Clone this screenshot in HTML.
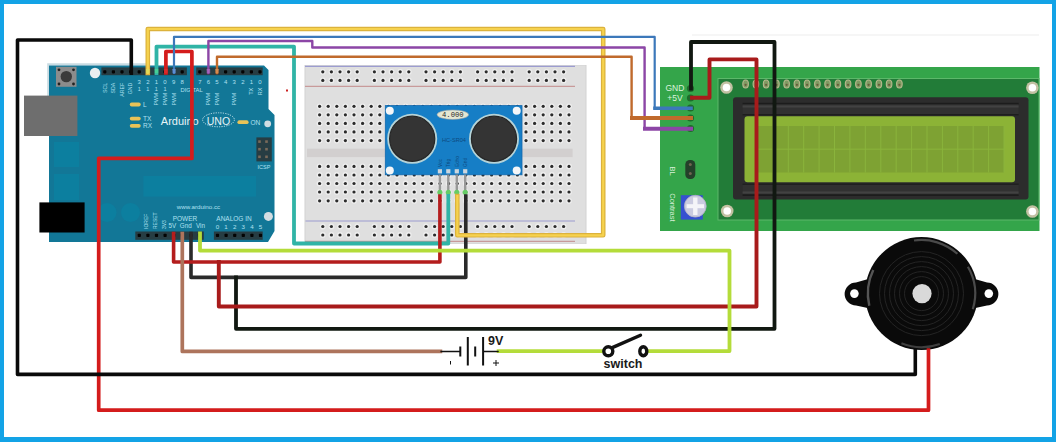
<!DOCTYPE html>
<html><head><meta charset="utf-8"><style>
html,body{margin:0;padding:0;background:#fff;}
body{width:1056px;height:442px;overflow:hidden;font-family:"Liberation Sans", sans-serif;}
svg{display:block;}
</style></head><body>
<svg width="1056" height="442" viewBox="0 0 1056 442">
<rect x="0" y="0" width="1056" height="442" fill="#13a3e6"/>
<rect x="4" y="4" width="1048" height="433" fill="#ffffff"/>
<rect x="692" y="34.5" width="347" height="1" fill="#eeeeee"/>
<polygon points="47.2,63.2 150,63.2 150,65.5 49,65.5 49,96 47.2,96" fill="#c9dbe2"/>
<polygon points="49,65.5 264,65.5 268.5,70 268.5,109 274.5,115 274.5,231 268,242 49,242" fill="#127797"/>
<rect x="143.4" y="176" width="112.6" height="20.6" fill="#0c7f9f"/>
<rect x="54" y="142" width="25" height="25" fill="#0c7f9f"/>
<rect x="54" y="174" width="25" height="26" fill="#0c7f9f"/>
<circle cx="107" cy="212.5" r="9.5" fill="#0c7f9f"/>
<circle cx="130.5" cy="212.5" r="9.5" fill="#0c7f9f"/>
<rect x="24" y="95.6" width="53.4" height="40.4" fill="#6e6e6e"/>
<rect x="39.4" y="202.4" width="45.2" height="30.1" fill="#000"/>
<rect x="56" y="66.8" width="20.5" height="20" fill="#8c8c8c"/>
<circle cx="66.3" cy="76.6" r="5.7" fill="#3b3b3b"/>
<circle cx="59" cy="69.8" r="1.4" fill="#222"/>
<circle cx="73.5" cy="69.8" r="1.4" fill="#222"/>
<circle cx="59" cy="84" r="1.4" fill="#222"/>
<circle cx="73.5" cy="84" r="1.4" fill="#222"/>
<circle cx="95" cy="73" r="5.2" fill="#e9eef0"/>
<circle cx="267.7" cy="123.8" r="3.4" fill="#d0dce2"/>
<circle cx="268.4" cy="216.4" r="4.5" fill="#d3dde2"/>
<rect x="101.4" y="67.4" width="85.5" height="7.8" fill="#273d43"/>
<rect x="103.2" y="70.2" width="3.2" height="3.2" rx="0.8" fill="#030303"/>
<rect x="111.8" y="70.2" width="3.2" height="3.2" rx="0.8" fill="#030303"/>
<rect x="120.4" y="70.2" width="3.2" height="3.2" rx="0.8" fill="#030303"/>
<rect x="129.0" y="70.2" width="3.2" height="3.2" rx="0.8" fill="#030303"/>
<rect x="137.6" y="70.2" width="3.2" height="3.2" rx="0.8" fill="#030303"/>
<rect x="146.2" y="70.2" width="3.2" height="3.2" rx="0.8" fill="#030303"/>
<rect x="154.8" y="70.2" width="3.2" height="3.2" rx="0.8" fill="#030303"/>
<rect x="163.4" y="70.2" width="3.2" height="3.2" rx="0.8" fill="#030303"/>
<rect x="172.0" y="70.2" width="3.2" height="3.2" rx="0.8" fill="#030303"/>
<rect x="180.6" y="70.2" width="3.2" height="3.2" rx="0.8" fill="#030303"/>
<rect x="196.2" y="67.4" width="66.5" height="7.8" fill="#273d43"/>
<rect x="198.2" y="70.2" width="3.2" height="3.2" rx="0.8" fill="#030303"/>
<rect x="206.8" y="70.2" width="3.2" height="3.2" rx="0.8" fill="#030303"/>
<rect x="215.4" y="70.2" width="3.2" height="3.2" rx="0.8" fill="#030303"/>
<rect x="224.0" y="70.2" width="3.2" height="3.2" rx="0.8" fill="#030303"/>
<rect x="232.6" y="70.2" width="3.2" height="3.2" rx="0.8" fill="#030303"/>
<rect x="241.2" y="70.2" width="3.2" height="3.2" rx="0.8" fill="#030303"/>
<rect x="249.8" y="70.2" width="3.2" height="3.2" rx="0.8" fill="#030303"/>
<rect x="258.4" y="70.2" width="3.2" height="3.2" rx="0.8" fill="#030303"/>
<rect x="135.3" y="231.5" width="68.5" height="8.3" fill="#273d43"/>
<rect x="137.7" y="233.8" width="3.2" height="3.2" rx="0.8" fill="#030303"/>
<rect x="146.3" y="233.8" width="3.2" height="3.2" rx="0.8" fill="#030303"/>
<rect x="154.9" y="233.8" width="3.2" height="3.2" rx="0.8" fill="#030303"/>
<rect x="163.5" y="233.8" width="3.2" height="3.2" rx="0.8" fill="#030303"/>
<rect x="172.1" y="233.8" width="3.2" height="3.2" rx="0.8" fill="#030303"/>
<rect x="180.7" y="233.8" width="3.2" height="3.2" rx="0.8" fill="#030303"/>
<rect x="189.3" y="233.8" width="3.2" height="3.2" rx="0.8" fill="#030303"/>
<rect x="197.9" y="233.8" width="3.2" height="3.2" rx="0.8" fill="#030303"/>
<rect x="213.9" y="231.5" width="48.8" height="8.3" fill="#273d43"/>
<rect x="215.9" y="233.8" width="3.2" height="3.2" rx="0.8" fill="#030303"/>
<rect x="224.5" y="233.8" width="3.2" height="3.2" rx="0.8" fill="#030303"/>
<rect x="233.1" y="233.8" width="3.2" height="3.2" rx="0.8" fill="#030303"/>
<rect x="241.7" y="233.8" width="3.2" height="3.2" rx="0.8" fill="#030303"/>
<rect x="250.3" y="233.8" width="3.2" height="3.2" rx="0.8" fill="#030303"/>
<rect x="258.9" y="233.8" width="3.2" height="3.2" rx="0.8" fill="#030303"/>
<rect x="256.4" y="137.4" width="15.4" height="24" fill="#273d43"/>
<rect x="258.2" y="140.29999999999998" width="2.6" height="2.6" fill="#7a6a5a"/>
<rect x="265.2" y="140.29999999999998" width="2.6" height="2.6" fill="#7a6a5a"/>
<rect x="258.2" y="147.89999999999998" width="2.6" height="2.6" fill="#7a6a5a"/>
<rect x="265.2" y="147.89999999999998" width="2.6" height="2.6" fill="#7a6a5a"/>
<rect x="258.2" y="155.49999999999997" width="2.6" height="2.6" fill="#7a6a5a"/>
<rect x="265.2" y="155.49999999999997" width="2.6" height="2.6" fill="#7a6a5a"/>
<text x="106.7" y="82.8" font-family='"Liberation Sans", sans-serif' font-size="5.2" fill="#b0e0f0" font-weight="normal" text-anchor="end" transform="rotate(-90 106.7 82.8)">SCL</text>
<text x="115.3" y="82.8" font-family='"Liberation Sans", sans-serif' font-size="5.2" fill="#b0e0f0" font-weight="normal" text-anchor="end" transform="rotate(-90 115.3 82.8)">SDA</text>
<text x="123.9" y="82.8" font-family='"Liberation Sans", sans-serif' font-size="5.2" fill="#b0e0f0" font-weight="normal" text-anchor="end" transform="rotate(-90 123.9 82.8)">AREF</text>
<text x="132.5" y="82.8" font-family='"Liberation Sans", sans-serif' font-size="5.2" fill="#b0e0f0" font-weight="normal" text-anchor="end" transform="rotate(-90 132.5 82.8)">GND</text>
<text x="139.2" y="83.5" font-family='"Liberation Sans", sans-serif' font-size="6" fill="#b0e0f0" font-weight="normal" text-anchor="middle">3</text>
<text x="147.79999999999998" y="83.5" font-family='"Liberation Sans", sans-serif' font-size="6" fill="#b0e0f0" font-weight="normal" text-anchor="middle">2</text>
<text x="156.39999999999998" y="83.5" font-family='"Liberation Sans", sans-serif' font-size="6" fill="#b0e0f0" font-weight="normal" text-anchor="middle">1</text>
<text x="165.0" y="83.5" font-family='"Liberation Sans", sans-serif' font-size="6" fill="#b0e0f0" font-weight="normal" text-anchor="middle">0</text>
<text x="173.6" y="83.5" font-family='"Liberation Sans", sans-serif' font-size="6" fill="#b0e0f0" font-weight="normal" text-anchor="middle">9</text>
<text x="182.2" y="83.5" font-family='"Liberation Sans", sans-serif' font-size="6" fill="#b0e0f0" font-weight="normal" text-anchor="middle">8</text>
<text x="139.2" y="91.2" font-family='"Liberation Sans", sans-serif' font-size="5.5" fill="#b0e0f0" font-weight="normal" text-anchor="middle">1</text>
<text x="147.79999999999998" y="91.2" font-family='"Liberation Sans", sans-serif' font-size="5.5" fill="#b0e0f0" font-weight="normal" text-anchor="middle">1</text>
<text x="156.39999999999998" y="91.2" font-family='"Liberation Sans", sans-serif' font-size="5.5" fill="#b0e0f0" font-weight="normal" text-anchor="middle">1</text>
<text x="165.0" y="91.2" font-family='"Liberation Sans", sans-serif' font-size="5.5" fill="#b0e0f0" font-weight="normal" text-anchor="middle">1</text>
<text x="158.39999999999998" y="92.8" font-family='"Liberation Sans", sans-serif' font-size="5.2" fill="#b0e0f0" font-weight="normal" text-anchor="end" transform="rotate(-90 158.39999999999998 92.8)">PWM</text>
<text x="167.0" y="92.8" font-family='"Liberation Sans", sans-serif' font-size="5.2" fill="#b0e0f0" font-weight="normal" text-anchor="end" transform="rotate(-90 167.0 92.8)">PWM</text>
<text x="175.6" y="92.8" font-family='"Liberation Sans", sans-serif' font-size="5.2" fill="#b0e0f0" font-weight="normal" text-anchor="end" transform="rotate(-90 175.6 92.8)">PWM</text>
<text x="180.5" y="91.6" font-family='"Liberation Sans", sans-serif' font-size="5.8" fill="#b0e0f0" font-weight="normal" text-anchor="start">DIGITAL</text>
<text x="199.8" y="83.5" font-family='"Liberation Sans", sans-serif' font-size="6" fill="#b0e0f0" font-weight="normal" text-anchor="middle">7</text>
<text x="208.4" y="83.5" font-family='"Liberation Sans", sans-serif' font-size="6" fill="#b0e0f0" font-weight="normal" text-anchor="middle">6</text>
<text x="217.0" y="83.5" font-family='"Liberation Sans", sans-serif' font-size="6" fill="#b0e0f0" font-weight="normal" text-anchor="middle">5</text>
<text x="225.60000000000002" y="83.5" font-family='"Liberation Sans", sans-serif' font-size="6" fill="#b0e0f0" font-weight="normal" text-anchor="middle">4</text>
<text x="234.20000000000002" y="83.5" font-family='"Liberation Sans", sans-serif' font-size="6" fill="#b0e0f0" font-weight="normal" text-anchor="middle">3</text>
<text x="242.8" y="83.5" font-family='"Liberation Sans", sans-serif' font-size="6" fill="#b0e0f0" font-weight="normal" text-anchor="middle">2</text>
<text x="251.4" y="83.5" font-family='"Liberation Sans", sans-serif' font-size="6" fill="#b0e0f0" font-weight="normal" text-anchor="middle">1</text>
<text x="260.0" y="83.5" font-family='"Liberation Sans", sans-serif' font-size="6" fill="#b0e0f0" font-weight="normal" text-anchor="middle">0</text>
<text x="210.4" y="92.8" font-family='"Liberation Sans", sans-serif' font-size="5.2" fill="#b0e0f0" font-weight="normal" text-anchor="end" transform="rotate(-90 210.4 92.8)">PWM</text>
<text x="219.0" y="92.8" font-family='"Liberation Sans", sans-serif' font-size="5.2" fill="#b0e0f0" font-weight="normal" text-anchor="end" transform="rotate(-90 219.0 92.8)">PWM</text>
<text x="236.20000000000002" y="92.8" font-family='"Liberation Sans", sans-serif' font-size="5.2" fill="#b0e0f0" font-weight="normal" text-anchor="end" transform="rotate(-90 236.20000000000002 92.8)">PWM</text>
<text x="253.4" y="87.7" font-family='"Liberation Sans", sans-serif' font-size="5.5" fill="#b0e0f0" font-weight="normal" text-anchor="end" transform="rotate(-90 253.4 87.7)">TX</text>
<text x="262" y="87.7" font-family='"Liberation Sans", sans-serif' font-size="5.5" fill="#b0e0f0" font-weight="normal" text-anchor="end" transform="rotate(-90 262 87.7)">RX</text>
<rect x="129.8" y="102.6" width="10.9" height="3.8" rx="1.9" fill="#e9c357"/>
<text x="143" y="106.8" font-family='"Liberation Sans", sans-serif' font-size="6.5" fill="#b0e0f0" font-weight="normal" text-anchor="start">L</text>
<rect x="129.8" y="116.69999999999999" width="10.9" height="3.8" rx="1.9" fill="#e9c357"/>
<text x="143" y="120.89999999999999" font-family='"Liberation Sans", sans-serif' font-size="6.5" fill="#b0e0f0" font-weight="normal" text-anchor="start">TX</text>
<rect x="129.8" y="123.89999999999999" width="10.9" height="3.8" rx="1.9" fill="#e9c357"/>
<text x="143" y="128.1" font-family='"Liberation Sans", sans-serif' font-size="6.5" fill="#b0e0f0" font-weight="normal" text-anchor="start">RX</text>
<text x="160.8" y="124.5" font-family='"Liberation Sans", sans-serif' font-size="11" fill="#e6f4f8" font-weight="normal" text-anchor="start">Arduino</text>
<ellipse cx="218.5" cy="119.8" rx="15.9" ry="7" fill="none" stroke="#d8eef5" stroke-width="0.9" stroke-dasharray="1.2 1.2"/>
<text x="218.4" y="124.5" font-family='"Liberation Sans", sans-serif' font-size="10.5" fill="#e6f4f8" font-weight="normal" text-anchor="middle">UNO</text>
<rect x="237.4" y="120.3" width="11.2" height="3.8" rx="1.9" fill="#e9c357"/>
<text x="250.4" y="124.5" font-family='"Liberation Sans", sans-serif' font-size="6.5" fill="#b0e0f0" font-weight="normal" text-anchor="start">ON</text>
<text x="264" y="168.5" font-family='"Liberation Sans", sans-serif' font-size="5.5" fill="#b0e0f0" font-weight="normal" text-anchor="middle">ICSP</text>
<text x="198.5" y="209" font-family='"Liberation Sans", sans-serif' font-size="6.2" fill="#b0e0f0" font-weight="normal" text-anchor="middle">www.arduino.cc</text>
<text x="185" y="220.5" font-family='"Liberation Sans", sans-serif' font-size="6.5" fill="#b0e0f0" font-weight="normal" text-anchor="middle">POWER</text>
<text x="234" y="220.5" font-family='"Liberation Sans", sans-serif' font-size="6.5" fill="#b0e0f0" font-weight="normal" text-anchor="middle">ANALOG IN</text>
<text x="172.3" y="228.4" font-family='"Liberation Sans", sans-serif' font-size="6.3" fill="#b0e0f0" font-weight="normal" text-anchor="middle">5V</text>
<text x="185.8" y="228.4" font-family='"Liberation Sans", sans-serif' font-size="6.3" fill="#b0e0f0" font-weight="normal" text-anchor="middle">Gnd</text>
<text x="200.5" y="228.4" font-family='"Liberation Sans", sans-serif' font-size="6.3" fill="#b0e0f0" font-weight="normal" text-anchor="middle">Vin</text>
<text x="217.5" y="228.5" font-family='"Liberation Sans", sans-serif' font-size="6.2" fill="#b0e0f0" font-weight="normal" text-anchor="middle">0</text>
<text x="226.1" y="228.5" font-family='"Liberation Sans", sans-serif' font-size="6.2" fill="#b0e0f0" font-weight="normal" text-anchor="middle">1</text>
<text x="234.7" y="228.5" font-family='"Liberation Sans", sans-serif' font-size="6.2" fill="#b0e0f0" font-weight="normal" text-anchor="middle">2</text>
<text x="243.3" y="228.5" font-family='"Liberation Sans", sans-serif' font-size="6.2" fill="#b0e0f0" font-weight="normal" text-anchor="middle">3</text>
<text x="251.9" y="228.5" font-family='"Liberation Sans", sans-serif' font-size="6.2" fill="#b0e0f0" font-weight="normal" text-anchor="middle">4</text>
<text x="260.5" y="228.5" font-family='"Liberation Sans", sans-serif' font-size="6.2" fill="#b0e0f0" font-weight="normal" text-anchor="middle">5</text>
<text x="147.7" y="229" font-family='"Liberation Sans", sans-serif' font-size="5" fill="#b0e0f0" font-weight="normal" text-anchor="start" transform="rotate(-90 147.7 229)">IOREF</text>
<text x="156.79999999999998" y="229" font-family='"Liberation Sans", sans-serif' font-size="5" fill="#b0e0f0" font-weight="normal" text-anchor="start" transform="rotate(-90 156.79999999999998 229)">RESET</text>
<text x="165.89999999999998" y="229" font-family='"Liberation Sans", sans-serif' font-size="5" fill="#b0e0f0" font-weight="normal" text-anchor="start" transform="rotate(-90 165.89999999999998 229)">3V3</text>
<rect x="304.5" y="65" width="282" height="179" fill="#d2d2d2"/>
<rect x="305.5" y="65.5" width="280" height="178" fill="#dfdfdf"/>
<rect x="307" y="148.7" width="265.6" height="8.4" fill="#d2cfcf"/>
<line x1="305" y1="66.3" x2="575" y2="66.3" stroke="#9c9cd0" stroke-width="1.2"/>
<line x1="305" y1="86.3" x2="575" y2="86.3" stroke="#c89a9a" stroke-width="1.2"/>
<line x1="305.5" y1="221" x2="575" y2="221" stroke="#9c9cd0" stroke-width="1.2"/>
<line x1="305" y1="241.3" x2="575" y2="241.3" stroke="#c89a9a" stroke-width="1.2"/>
<circle cx="322.8" cy="71.8" r="2.9" fill="#eeeeee"/><circle cx="322.8" cy="71.8" r="1.6" fill="#2b2b2b"/>
<circle cx="331.4" cy="71.8" r="2.9" fill="#eeeeee"/><circle cx="331.4" cy="71.8" r="1.6" fill="#2b2b2b"/>
<circle cx="340.0" cy="71.8" r="2.9" fill="#eeeeee"/><circle cx="340.0" cy="71.8" r="1.6" fill="#2b2b2b"/>
<circle cx="348.6" cy="71.8" r="2.9" fill="#eeeeee"/><circle cx="348.6" cy="71.8" r="1.6" fill="#2b2b2b"/>
<circle cx="357.2" cy="71.8" r="2.9" fill="#eeeeee"/><circle cx="357.2" cy="71.8" r="1.6" fill="#2b2b2b"/>
<circle cx="374.4" cy="71.8" r="2.9" fill="#eeeeee"/><circle cx="374.4" cy="71.8" r="1.6" fill="#2b2b2b"/>
<circle cx="383.0" cy="71.8" r="2.9" fill="#eeeeee"/><circle cx="383.0" cy="71.8" r="1.6" fill="#2b2b2b"/>
<circle cx="391.6" cy="71.8" r="2.9" fill="#eeeeee"/><circle cx="391.6" cy="71.8" r="1.6" fill="#2b2b2b"/>
<circle cx="400.2" cy="71.8" r="2.9" fill="#eeeeee"/><circle cx="400.2" cy="71.8" r="1.6" fill="#2b2b2b"/>
<circle cx="408.8" cy="71.8" r="2.9" fill="#eeeeee"/><circle cx="408.8" cy="71.8" r="1.6" fill="#2b2b2b"/>
<circle cx="426.0" cy="71.8" r="2.9" fill="#eeeeee"/><circle cx="426.0" cy="71.8" r="1.6" fill="#2b2b2b"/>
<circle cx="434.6" cy="71.8" r="2.9" fill="#eeeeee"/><circle cx="434.6" cy="71.8" r="1.6" fill="#2b2b2b"/>
<circle cx="443.2" cy="71.8" r="2.9" fill="#eeeeee"/><circle cx="443.2" cy="71.8" r="1.6" fill="#2b2b2b"/>
<circle cx="451.8" cy="71.8" r="2.9" fill="#eeeeee"/><circle cx="451.8" cy="71.8" r="1.6" fill="#2b2b2b"/>
<circle cx="460.4" cy="71.8" r="2.9" fill="#eeeeee"/><circle cx="460.4" cy="71.8" r="1.6" fill="#2b2b2b"/>
<circle cx="477.6" cy="71.8" r="2.9" fill="#eeeeee"/><circle cx="477.6" cy="71.8" r="1.6" fill="#2b2b2b"/>
<circle cx="486.2" cy="71.8" r="2.9" fill="#eeeeee"/><circle cx="486.2" cy="71.8" r="1.6" fill="#2b2b2b"/>
<circle cx="494.8" cy="71.8" r="2.9" fill="#eeeeee"/><circle cx="494.8" cy="71.8" r="1.6" fill="#2b2b2b"/>
<circle cx="503.4" cy="71.8" r="2.9" fill="#eeeeee"/><circle cx="503.4" cy="71.8" r="1.6" fill="#2b2b2b"/>
<circle cx="512.0" cy="71.8" r="2.9" fill="#eeeeee"/><circle cx="512.0" cy="71.8" r="1.6" fill="#2b2b2b"/>
<circle cx="529.2" cy="71.8" r="2.9" fill="#eeeeee"/><circle cx="529.2" cy="71.8" r="1.6" fill="#2b2b2b"/>
<circle cx="537.8" cy="71.8" r="2.9" fill="#eeeeee"/><circle cx="537.8" cy="71.8" r="1.6" fill="#2b2b2b"/>
<circle cx="546.4" cy="71.8" r="2.9" fill="#eeeeee"/><circle cx="546.4" cy="71.8" r="1.6" fill="#2b2b2b"/>
<circle cx="555.0" cy="71.8" r="2.9" fill="#eeeeee"/><circle cx="555.0" cy="71.8" r="1.6" fill="#2b2b2b"/>
<circle cx="563.6" cy="71.8" r="2.9" fill="#eeeeee"/><circle cx="563.6" cy="71.8" r="1.6" fill="#2b2b2b"/>
<circle cx="322.8" cy="80.4" r="2.9" fill="#eeeeee"/><circle cx="322.8" cy="80.4" r="1.6" fill="#2b2b2b"/>
<circle cx="331.4" cy="80.4" r="2.9" fill="#eeeeee"/><circle cx="331.4" cy="80.4" r="1.6" fill="#2b2b2b"/>
<circle cx="340.0" cy="80.4" r="2.9" fill="#eeeeee"/><circle cx="340.0" cy="80.4" r="1.6" fill="#2b2b2b"/>
<circle cx="348.6" cy="80.4" r="2.9" fill="#eeeeee"/><circle cx="348.6" cy="80.4" r="1.6" fill="#2b2b2b"/>
<circle cx="357.2" cy="80.4" r="2.9" fill="#eeeeee"/><circle cx="357.2" cy="80.4" r="1.6" fill="#2b2b2b"/>
<circle cx="374.4" cy="80.4" r="2.9" fill="#eeeeee"/><circle cx="374.4" cy="80.4" r="1.6" fill="#2b2b2b"/>
<circle cx="383.0" cy="80.4" r="2.9" fill="#eeeeee"/><circle cx="383.0" cy="80.4" r="1.6" fill="#2b2b2b"/>
<circle cx="391.6" cy="80.4" r="2.9" fill="#eeeeee"/><circle cx="391.6" cy="80.4" r="1.6" fill="#2b2b2b"/>
<circle cx="400.2" cy="80.4" r="2.9" fill="#eeeeee"/><circle cx="400.2" cy="80.4" r="1.6" fill="#2b2b2b"/>
<circle cx="408.8" cy="80.4" r="2.9" fill="#eeeeee"/><circle cx="408.8" cy="80.4" r="1.6" fill="#2b2b2b"/>
<circle cx="426.0" cy="80.4" r="2.9" fill="#eeeeee"/><circle cx="426.0" cy="80.4" r="1.6" fill="#2b2b2b"/>
<circle cx="434.6" cy="80.4" r="2.9" fill="#eeeeee"/><circle cx="434.6" cy="80.4" r="1.6" fill="#2b2b2b"/>
<circle cx="443.2" cy="80.4" r="2.9" fill="#eeeeee"/><circle cx="443.2" cy="80.4" r="1.6" fill="#2b2b2b"/>
<circle cx="451.8" cy="80.4" r="2.9" fill="#eeeeee"/><circle cx="451.8" cy="80.4" r="1.6" fill="#2b2b2b"/>
<circle cx="460.4" cy="80.4" r="2.9" fill="#eeeeee"/><circle cx="460.4" cy="80.4" r="1.6" fill="#2b2b2b"/>
<circle cx="477.6" cy="80.4" r="2.9" fill="#eeeeee"/><circle cx="477.6" cy="80.4" r="1.6" fill="#2b2b2b"/>
<circle cx="486.2" cy="80.4" r="2.9" fill="#eeeeee"/><circle cx="486.2" cy="80.4" r="1.6" fill="#2b2b2b"/>
<circle cx="494.8" cy="80.4" r="2.9" fill="#eeeeee"/><circle cx="494.8" cy="80.4" r="1.6" fill="#2b2b2b"/>
<circle cx="503.4" cy="80.4" r="2.9" fill="#eeeeee"/><circle cx="503.4" cy="80.4" r="1.6" fill="#2b2b2b"/>
<circle cx="512.0" cy="80.4" r="2.9" fill="#eeeeee"/><circle cx="512.0" cy="80.4" r="1.6" fill="#2b2b2b"/>
<circle cx="529.2" cy="80.4" r="2.9" fill="#eeeeee"/><circle cx="529.2" cy="80.4" r="1.6" fill="#2b2b2b"/>
<circle cx="537.8" cy="80.4" r="2.9" fill="#eeeeee"/><circle cx="537.8" cy="80.4" r="1.6" fill="#2b2b2b"/>
<circle cx="546.4" cy="80.4" r="2.9" fill="#eeeeee"/><circle cx="546.4" cy="80.4" r="1.6" fill="#2b2b2b"/>
<circle cx="555.0" cy="80.4" r="2.9" fill="#eeeeee"/><circle cx="555.0" cy="80.4" r="1.6" fill="#2b2b2b"/>
<circle cx="563.6" cy="80.4" r="2.9" fill="#eeeeee"/><circle cx="563.6" cy="80.4" r="1.6" fill="#2b2b2b"/>
<circle cx="322.8" cy="226.5" r="2.9" fill="#eeeeee"/><circle cx="322.8" cy="226.5" r="1.6" fill="#2b2b2b"/>
<circle cx="331.4" cy="226.5" r="2.9" fill="#eeeeee"/><circle cx="331.4" cy="226.5" r="1.6" fill="#2b2b2b"/>
<circle cx="340.0" cy="226.5" r="2.9" fill="#eeeeee"/><circle cx="340.0" cy="226.5" r="1.6" fill="#2b2b2b"/>
<circle cx="348.6" cy="226.5" r="2.9" fill="#eeeeee"/><circle cx="348.6" cy="226.5" r="1.6" fill="#2b2b2b"/>
<circle cx="357.2" cy="226.5" r="2.9" fill="#eeeeee"/><circle cx="357.2" cy="226.5" r="1.6" fill="#2b2b2b"/>
<circle cx="374.4" cy="226.5" r="2.9" fill="#eeeeee"/><circle cx="374.4" cy="226.5" r="1.6" fill="#2b2b2b"/>
<circle cx="383.0" cy="226.5" r="2.9" fill="#eeeeee"/><circle cx="383.0" cy="226.5" r="1.6" fill="#2b2b2b"/>
<circle cx="391.6" cy="226.5" r="2.9" fill="#eeeeee"/><circle cx="391.6" cy="226.5" r="1.6" fill="#2b2b2b"/>
<circle cx="400.2" cy="226.5" r="2.9" fill="#eeeeee"/><circle cx="400.2" cy="226.5" r="1.6" fill="#2b2b2b"/>
<circle cx="408.8" cy="226.5" r="2.9" fill="#eeeeee"/><circle cx="408.8" cy="226.5" r="1.6" fill="#2b2b2b"/>
<circle cx="426.0" cy="226.5" r="2.9" fill="#eeeeee"/><circle cx="426.0" cy="226.5" r="1.6" fill="#2b2b2b"/>
<circle cx="434.6" cy="226.5" r="2.9" fill="#eeeeee"/><circle cx="434.6" cy="226.5" r="1.6" fill="#2b2b2b"/>
<circle cx="443.2" cy="226.5" r="2.9" fill="#eeeeee"/><circle cx="443.2" cy="226.5" r="1.6" fill="#2b2b2b"/>
<circle cx="451.8" cy="226.5" r="2.9" fill="#eeeeee"/><circle cx="451.8" cy="226.5" r="1.6" fill="#2b2b2b"/>
<circle cx="460.4" cy="226.5" r="2.9" fill="#eeeeee"/><circle cx="460.4" cy="226.5" r="1.6" fill="#2b2b2b"/>
<circle cx="477.6" cy="226.5" r="2.9" fill="#eeeeee"/><circle cx="477.6" cy="226.5" r="1.6" fill="#2b2b2b"/>
<circle cx="486.2" cy="226.5" r="2.9" fill="#eeeeee"/><circle cx="486.2" cy="226.5" r="1.6" fill="#2b2b2b"/>
<circle cx="494.8" cy="226.5" r="2.9" fill="#eeeeee"/><circle cx="494.8" cy="226.5" r="1.6" fill="#2b2b2b"/>
<circle cx="503.4" cy="226.5" r="2.9" fill="#eeeeee"/><circle cx="503.4" cy="226.5" r="1.6" fill="#2b2b2b"/>
<circle cx="512.0" cy="226.5" r="2.9" fill="#eeeeee"/><circle cx="512.0" cy="226.5" r="1.6" fill="#2b2b2b"/>
<circle cx="529.2" cy="226.5" r="2.9" fill="#eeeeee"/><circle cx="529.2" cy="226.5" r="1.6" fill="#2b2b2b"/>
<circle cx="537.8" cy="226.5" r="2.9" fill="#eeeeee"/><circle cx="537.8" cy="226.5" r="1.6" fill="#2b2b2b"/>
<circle cx="546.4" cy="226.5" r="2.9" fill="#eeeeee"/><circle cx="546.4" cy="226.5" r="1.6" fill="#2b2b2b"/>
<circle cx="555.0" cy="226.5" r="2.9" fill="#eeeeee"/><circle cx="555.0" cy="226.5" r="1.6" fill="#2b2b2b"/>
<circle cx="563.6" cy="226.5" r="2.9" fill="#eeeeee"/><circle cx="563.6" cy="226.5" r="1.6" fill="#2b2b2b"/>
<circle cx="322.8" cy="235.0" r="2.9" fill="#eeeeee"/><circle cx="322.8" cy="235.0" r="1.6" fill="#2b2b2b"/>
<circle cx="331.4" cy="235.0" r="2.9" fill="#eeeeee"/><circle cx="331.4" cy="235.0" r="1.6" fill="#2b2b2b"/>
<circle cx="340.0" cy="235.0" r="2.9" fill="#eeeeee"/><circle cx="340.0" cy="235.0" r="1.6" fill="#2b2b2b"/>
<circle cx="348.6" cy="235.0" r="2.9" fill="#eeeeee"/><circle cx="348.6" cy="235.0" r="1.6" fill="#2b2b2b"/>
<circle cx="357.2" cy="235.0" r="2.9" fill="#eeeeee"/><circle cx="357.2" cy="235.0" r="1.6" fill="#2b2b2b"/>
<circle cx="374.4" cy="235.0" r="2.9" fill="#eeeeee"/><circle cx="374.4" cy="235.0" r="1.6" fill="#2b2b2b"/>
<circle cx="383.0" cy="235.0" r="2.9" fill="#eeeeee"/><circle cx="383.0" cy="235.0" r="1.6" fill="#2b2b2b"/>
<circle cx="391.6" cy="235.0" r="2.9" fill="#eeeeee"/><circle cx="391.6" cy="235.0" r="1.6" fill="#2b2b2b"/>
<circle cx="400.2" cy="235.0" r="2.9" fill="#eeeeee"/><circle cx="400.2" cy="235.0" r="1.6" fill="#2b2b2b"/>
<circle cx="408.8" cy="235.0" r="2.9" fill="#eeeeee"/><circle cx="408.8" cy="235.0" r="1.6" fill="#2b2b2b"/>
<circle cx="426.0" cy="235.0" r="2.9" fill="#eeeeee"/><circle cx="426.0" cy="235.0" r="1.6" fill="#2b2b2b"/>
<circle cx="434.6" cy="235.0" r="2.9" fill="#eeeeee"/><circle cx="434.6" cy="235.0" r="1.6" fill="#2b2b2b"/>
<circle cx="443.2" cy="235.0" r="2.9" fill="#eeeeee"/><circle cx="443.2" cy="235.0" r="1.6" fill="#2b2b2b"/>
<circle cx="451.8" cy="235.0" r="2.9" fill="#eeeeee"/><circle cx="451.8" cy="235.0" r="1.6" fill="#2b2b2b"/>
<circle cx="460.4" cy="235.0" r="2.9" fill="#eeeeee"/><circle cx="460.4" cy="235.0" r="1.6" fill="#2b2b2b"/>
<circle cx="477.6" cy="235.0" r="2.9" fill="#eeeeee"/><circle cx="477.6" cy="235.0" r="1.6" fill="#2b2b2b"/>
<circle cx="486.2" cy="235.0" r="2.9" fill="#eeeeee"/><circle cx="486.2" cy="235.0" r="1.6" fill="#2b2b2b"/>
<circle cx="494.8" cy="235.0" r="2.9" fill="#eeeeee"/><circle cx="494.8" cy="235.0" r="1.6" fill="#2b2b2b"/>
<circle cx="503.4" cy="235.0" r="2.9" fill="#eeeeee"/><circle cx="503.4" cy="235.0" r="1.6" fill="#2b2b2b"/>
<circle cx="512.0" cy="235.0" r="2.9" fill="#eeeeee"/><circle cx="512.0" cy="235.0" r="1.6" fill="#2b2b2b"/>
<circle cx="529.2" cy="235.0" r="2.9" fill="#eeeeee"/><circle cx="529.2" cy="235.0" r="1.6" fill="#2b2b2b"/>
<circle cx="537.8" cy="235.0" r="2.9" fill="#eeeeee"/><circle cx="537.8" cy="235.0" r="1.6" fill="#2b2b2b"/>
<circle cx="546.4" cy="235.0" r="2.9" fill="#eeeeee"/><circle cx="546.4" cy="235.0" r="1.6" fill="#2b2b2b"/>
<circle cx="555.0" cy="235.0" r="2.9" fill="#eeeeee"/><circle cx="555.0" cy="235.0" r="1.6" fill="#2b2b2b"/>
<circle cx="563.6" cy="235.0" r="2.9" fill="#eeeeee"/><circle cx="563.6" cy="235.0" r="1.6" fill="#2b2b2b"/>
<circle cx="319.6" cy="106.3" r="2.9" fill="#eeeeee"/><circle cx="319.6" cy="106.3" r="1.6" fill="#2b2b2b"/>
<circle cx="328.2" cy="106.3" r="2.9" fill="#eeeeee"/><circle cx="328.2" cy="106.3" r="1.6" fill="#2b2b2b"/>
<circle cx="336.8" cy="106.3" r="2.9" fill="#eeeeee"/><circle cx="336.8" cy="106.3" r="1.6" fill="#2b2b2b"/>
<circle cx="345.4" cy="106.3" r="2.9" fill="#eeeeee"/><circle cx="345.4" cy="106.3" r="1.6" fill="#2b2b2b"/>
<circle cx="354.0" cy="106.3" r="2.9" fill="#eeeeee"/><circle cx="354.0" cy="106.3" r="1.6" fill="#2b2b2b"/>
<circle cx="362.6" cy="106.3" r="2.9" fill="#eeeeee"/><circle cx="362.6" cy="106.3" r="1.6" fill="#2b2b2b"/>
<circle cx="371.2" cy="106.3" r="2.9" fill="#eeeeee"/><circle cx="371.2" cy="106.3" r="1.6" fill="#2b2b2b"/>
<circle cx="379.8" cy="106.3" r="2.9" fill="#eeeeee"/><circle cx="379.8" cy="106.3" r="1.6" fill="#2b2b2b"/>
<circle cx="388.4" cy="106.3" r="2.9" fill="#eeeeee"/><circle cx="388.4" cy="106.3" r="1.6" fill="#2b2b2b"/>
<circle cx="397.0" cy="106.3" r="2.9" fill="#eeeeee"/><circle cx="397.0" cy="106.3" r="1.6" fill="#2b2b2b"/>
<circle cx="405.6" cy="106.3" r="2.9" fill="#eeeeee"/><circle cx="405.6" cy="106.3" r="1.6" fill="#2b2b2b"/>
<circle cx="414.2" cy="106.3" r="2.9" fill="#eeeeee"/><circle cx="414.2" cy="106.3" r="1.6" fill="#2b2b2b"/>
<circle cx="422.8" cy="106.3" r="2.9" fill="#eeeeee"/><circle cx="422.8" cy="106.3" r="1.6" fill="#2b2b2b"/>
<circle cx="431.4" cy="106.3" r="2.9" fill="#eeeeee"/><circle cx="431.4" cy="106.3" r="1.6" fill="#2b2b2b"/>
<circle cx="440.0" cy="106.3" r="2.9" fill="#eeeeee"/><circle cx="440.0" cy="106.3" r="1.6" fill="#2b2b2b"/>
<circle cx="448.6" cy="106.3" r="2.9" fill="#eeeeee"/><circle cx="448.6" cy="106.3" r="1.6" fill="#2b2b2b"/>
<circle cx="457.2" cy="106.3" r="2.9" fill="#eeeeee"/><circle cx="457.2" cy="106.3" r="1.6" fill="#2b2b2b"/>
<circle cx="465.8" cy="106.3" r="2.9" fill="#eeeeee"/><circle cx="465.8" cy="106.3" r="1.6" fill="#2b2b2b"/>
<circle cx="474.4" cy="106.3" r="2.9" fill="#eeeeee"/><circle cx="474.4" cy="106.3" r="1.6" fill="#2b2b2b"/>
<circle cx="483.0" cy="106.3" r="2.9" fill="#eeeeee"/><circle cx="483.0" cy="106.3" r="1.6" fill="#2b2b2b"/>
<circle cx="491.6" cy="106.3" r="2.9" fill="#eeeeee"/><circle cx="491.6" cy="106.3" r="1.6" fill="#2b2b2b"/>
<circle cx="500.2" cy="106.3" r="2.9" fill="#eeeeee"/><circle cx="500.2" cy="106.3" r="1.6" fill="#2b2b2b"/>
<circle cx="508.8" cy="106.3" r="2.9" fill="#eeeeee"/><circle cx="508.8" cy="106.3" r="1.6" fill="#2b2b2b"/>
<circle cx="517.4" cy="106.3" r="2.9" fill="#eeeeee"/><circle cx="517.4" cy="106.3" r="1.6" fill="#2b2b2b"/>
<circle cx="526.0" cy="106.3" r="2.9" fill="#eeeeee"/><circle cx="526.0" cy="106.3" r="1.6" fill="#2b2b2b"/>
<circle cx="534.6" cy="106.3" r="2.9" fill="#eeeeee"/><circle cx="534.6" cy="106.3" r="1.6" fill="#2b2b2b"/>
<circle cx="543.2" cy="106.3" r="2.9" fill="#eeeeee"/><circle cx="543.2" cy="106.3" r="1.6" fill="#2b2b2b"/>
<circle cx="551.8" cy="106.3" r="2.9" fill="#eeeeee"/><circle cx="551.8" cy="106.3" r="1.6" fill="#2b2b2b"/>
<circle cx="560.4" cy="106.3" r="2.9" fill="#eeeeee"/><circle cx="560.4" cy="106.3" r="1.6" fill="#2b2b2b"/>
<circle cx="569.0" cy="106.3" r="2.9" fill="#eeeeee"/><circle cx="569.0" cy="106.3" r="1.6" fill="#2b2b2b"/>
<circle cx="319.6" cy="114.8" r="2.9" fill="#eeeeee"/><circle cx="319.6" cy="114.8" r="1.6" fill="#2b2b2b"/>
<circle cx="328.2" cy="114.8" r="2.9" fill="#eeeeee"/><circle cx="328.2" cy="114.8" r="1.6" fill="#2b2b2b"/>
<circle cx="336.8" cy="114.8" r="2.9" fill="#eeeeee"/><circle cx="336.8" cy="114.8" r="1.6" fill="#2b2b2b"/>
<circle cx="345.4" cy="114.8" r="2.9" fill="#eeeeee"/><circle cx="345.4" cy="114.8" r="1.6" fill="#2b2b2b"/>
<circle cx="354.0" cy="114.8" r="2.9" fill="#eeeeee"/><circle cx="354.0" cy="114.8" r="1.6" fill="#2b2b2b"/>
<circle cx="362.6" cy="114.8" r="2.9" fill="#eeeeee"/><circle cx="362.6" cy="114.8" r="1.6" fill="#2b2b2b"/>
<circle cx="371.2" cy="114.8" r="2.9" fill="#eeeeee"/><circle cx="371.2" cy="114.8" r="1.6" fill="#2b2b2b"/>
<circle cx="379.8" cy="114.8" r="2.9" fill="#eeeeee"/><circle cx="379.8" cy="114.8" r="1.6" fill="#2b2b2b"/>
<circle cx="388.4" cy="114.8" r="2.9" fill="#eeeeee"/><circle cx="388.4" cy="114.8" r="1.6" fill="#2b2b2b"/>
<circle cx="397.0" cy="114.8" r="2.9" fill="#eeeeee"/><circle cx="397.0" cy="114.8" r="1.6" fill="#2b2b2b"/>
<circle cx="405.6" cy="114.8" r="2.9" fill="#eeeeee"/><circle cx="405.6" cy="114.8" r="1.6" fill="#2b2b2b"/>
<circle cx="414.2" cy="114.8" r="2.9" fill="#eeeeee"/><circle cx="414.2" cy="114.8" r="1.6" fill="#2b2b2b"/>
<circle cx="422.8" cy="114.8" r="2.9" fill="#eeeeee"/><circle cx="422.8" cy="114.8" r="1.6" fill="#2b2b2b"/>
<circle cx="431.4" cy="114.8" r="2.9" fill="#eeeeee"/><circle cx="431.4" cy="114.8" r="1.6" fill="#2b2b2b"/>
<circle cx="440.0" cy="114.8" r="2.9" fill="#eeeeee"/><circle cx="440.0" cy="114.8" r="1.6" fill="#2b2b2b"/>
<circle cx="448.6" cy="114.8" r="2.9" fill="#eeeeee"/><circle cx="448.6" cy="114.8" r="1.6" fill="#2b2b2b"/>
<circle cx="457.2" cy="114.8" r="2.9" fill="#eeeeee"/><circle cx="457.2" cy="114.8" r="1.6" fill="#2b2b2b"/>
<circle cx="465.8" cy="114.8" r="2.9" fill="#eeeeee"/><circle cx="465.8" cy="114.8" r="1.6" fill="#2b2b2b"/>
<circle cx="474.4" cy="114.8" r="2.9" fill="#eeeeee"/><circle cx="474.4" cy="114.8" r="1.6" fill="#2b2b2b"/>
<circle cx="483.0" cy="114.8" r="2.9" fill="#eeeeee"/><circle cx="483.0" cy="114.8" r="1.6" fill="#2b2b2b"/>
<circle cx="491.6" cy="114.8" r="2.9" fill="#eeeeee"/><circle cx="491.6" cy="114.8" r="1.6" fill="#2b2b2b"/>
<circle cx="500.2" cy="114.8" r="2.9" fill="#eeeeee"/><circle cx="500.2" cy="114.8" r="1.6" fill="#2b2b2b"/>
<circle cx="508.8" cy="114.8" r="2.9" fill="#eeeeee"/><circle cx="508.8" cy="114.8" r="1.6" fill="#2b2b2b"/>
<circle cx="517.4" cy="114.8" r="2.9" fill="#eeeeee"/><circle cx="517.4" cy="114.8" r="1.6" fill="#2b2b2b"/>
<circle cx="526.0" cy="114.8" r="2.9" fill="#eeeeee"/><circle cx="526.0" cy="114.8" r="1.6" fill="#2b2b2b"/>
<circle cx="534.6" cy="114.8" r="2.9" fill="#eeeeee"/><circle cx="534.6" cy="114.8" r="1.6" fill="#2b2b2b"/>
<circle cx="543.2" cy="114.8" r="2.9" fill="#eeeeee"/><circle cx="543.2" cy="114.8" r="1.6" fill="#2b2b2b"/>
<circle cx="551.8" cy="114.8" r="2.9" fill="#eeeeee"/><circle cx="551.8" cy="114.8" r="1.6" fill="#2b2b2b"/>
<circle cx="560.4" cy="114.8" r="2.9" fill="#eeeeee"/><circle cx="560.4" cy="114.8" r="1.6" fill="#2b2b2b"/>
<circle cx="569.0" cy="114.8" r="2.9" fill="#eeeeee"/><circle cx="569.0" cy="114.8" r="1.6" fill="#2b2b2b"/>
<circle cx="319.6" cy="123.4" r="2.9" fill="#eeeeee"/><circle cx="319.6" cy="123.4" r="1.6" fill="#2b2b2b"/>
<circle cx="328.2" cy="123.4" r="2.9" fill="#eeeeee"/><circle cx="328.2" cy="123.4" r="1.6" fill="#2b2b2b"/>
<circle cx="336.8" cy="123.4" r="2.9" fill="#eeeeee"/><circle cx="336.8" cy="123.4" r="1.6" fill="#2b2b2b"/>
<circle cx="345.4" cy="123.4" r="2.9" fill="#eeeeee"/><circle cx="345.4" cy="123.4" r="1.6" fill="#2b2b2b"/>
<circle cx="354.0" cy="123.4" r="2.9" fill="#eeeeee"/><circle cx="354.0" cy="123.4" r="1.6" fill="#2b2b2b"/>
<circle cx="362.6" cy="123.4" r="2.9" fill="#eeeeee"/><circle cx="362.6" cy="123.4" r="1.6" fill="#2b2b2b"/>
<circle cx="371.2" cy="123.4" r="2.9" fill="#eeeeee"/><circle cx="371.2" cy="123.4" r="1.6" fill="#2b2b2b"/>
<circle cx="379.8" cy="123.4" r="2.9" fill="#eeeeee"/><circle cx="379.8" cy="123.4" r="1.6" fill="#2b2b2b"/>
<circle cx="388.4" cy="123.4" r="2.9" fill="#eeeeee"/><circle cx="388.4" cy="123.4" r="1.6" fill="#2b2b2b"/>
<circle cx="397.0" cy="123.4" r="2.9" fill="#eeeeee"/><circle cx="397.0" cy="123.4" r="1.6" fill="#2b2b2b"/>
<circle cx="405.6" cy="123.4" r="2.9" fill="#eeeeee"/><circle cx="405.6" cy="123.4" r="1.6" fill="#2b2b2b"/>
<circle cx="414.2" cy="123.4" r="2.9" fill="#eeeeee"/><circle cx="414.2" cy="123.4" r="1.6" fill="#2b2b2b"/>
<circle cx="422.8" cy="123.4" r="2.9" fill="#eeeeee"/><circle cx="422.8" cy="123.4" r="1.6" fill="#2b2b2b"/>
<circle cx="431.4" cy="123.4" r="2.9" fill="#eeeeee"/><circle cx="431.4" cy="123.4" r="1.6" fill="#2b2b2b"/>
<circle cx="440.0" cy="123.4" r="2.9" fill="#eeeeee"/><circle cx="440.0" cy="123.4" r="1.6" fill="#2b2b2b"/>
<circle cx="448.6" cy="123.4" r="2.9" fill="#eeeeee"/><circle cx="448.6" cy="123.4" r="1.6" fill="#2b2b2b"/>
<circle cx="457.2" cy="123.4" r="2.9" fill="#eeeeee"/><circle cx="457.2" cy="123.4" r="1.6" fill="#2b2b2b"/>
<circle cx="465.8" cy="123.4" r="2.9" fill="#eeeeee"/><circle cx="465.8" cy="123.4" r="1.6" fill="#2b2b2b"/>
<circle cx="474.4" cy="123.4" r="2.9" fill="#eeeeee"/><circle cx="474.4" cy="123.4" r="1.6" fill="#2b2b2b"/>
<circle cx="483.0" cy="123.4" r="2.9" fill="#eeeeee"/><circle cx="483.0" cy="123.4" r="1.6" fill="#2b2b2b"/>
<circle cx="491.6" cy="123.4" r="2.9" fill="#eeeeee"/><circle cx="491.6" cy="123.4" r="1.6" fill="#2b2b2b"/>
<circle cx="500.2" cy="123.4" r="2.9" fill="#eeeeee"/><circle cx="500.2" cy="123.4" r="1.6" fill="#2b2b2b"/>
<circle cx="508.8" cy="123.4" r="2.9" fill="#eeeeee"/><circle cx="508.8" cy="123.4" r="1.6" fill="#2b2b2b"/>
<circle cx="517.4" cy="123.4" r="2.9" fill="#eeeeee"/><circle cx="517.4" cy="123.4" r="1.6" fill="#2b2b2b"/>
<circle cx="526.0" cy="123.4" r="2.9" fill="#eeeeee"/><circle cx="526.0" cy="123.4" r="1.6" fill="#2b2b2b"/>
<circle cx="534.6" cy="123.4" r="2.9" fill="#eeeeee"/><circle cx="534.6" cy="123.4" r="1.6" fill="#2b2b2b"/>
<circle cx="543.2" cy="123.4" r="2.9" fill="#eeeeee"/><circle cx="543.2" cy="123.4" r="1.6" fill="#2b2b2b"/>
<circle cx="551.8" cy="123.4" r="2.9" fill="#eeeeee"/><circle cx="551.8" cy="123.4" r="1.6" fill="#2b2b2b"/>
<circle cx="560.4" cy="123.4" r="2.9" fill="#eeeeee"/><circle cx="560.4" cy="123.4" r="1.6" fill="#2b2b2b"/>
<circle cx="569.0" cy="123.4" r="2.9" fill="#eeeeee"/><circle cx="569.0" cy="123.4" r="1.6" fill="#2b2b2b"/>
<circle cx="319.6" cy="131.9" r="2.9" fill="#eeeeee"/><circle cx="319.6" cy="131.9" r="1.6" fill="#2b2b2b"/>
<circle cx="328.2" cy="131.9" r="2.9" fill="#eeeeee"/><circle cx="328.2" cy="131.9" r="1.6" fill="#2b2b2b"/>
<circle cx="336.8" cy="131.9" r="2.9" fill="#eeeeee"/><circle cx="336.8" cy="131.9" r="1.6" fill="#2b2b2b"/>
<circle cx="345.4" cy="131.9" r="2.9" fill="#eeeeee"/><circle cx="345.4" cy="131.9" r="1.6" fill="#2b2b2b"/>
<circle cx="354.0" cy="131.9" r="2.9" fill="#eeeeee"/><circle cx="354.0" cy="131.9" r="1.6" fill="#2b2b2b"/>
<circle cx="362.6" cy="131.9" r="2.9" fill="#eeeeee"/><circle cx="362.6" cy="131.9" r="1.6" fill="#2b2b2b"/>
<circle cx="371.2" cy="131.9" r="2.9" fill="#eeeeee"/><circle cx="371.2" cy="131.9" r="1.6" fill="#2b2b2b"/>
<circle cx="379.8" cy="131.9" r="2.9" fill="#eeeeee"/><circle cx="379.8" cy="131.9" r="1.6" fill="#2b2b2b"/>
<circle cx="388.4" cy="131.9" r="2.9" fill="#eeeeee"/><circle cx="388.4" cy="131.9" r="1.6" fill="#2b2b2b"/>
<circle cx="397.0" cy="131.9" r="2.9" fill="#eeeeee"/><circle cx="397.0" cy="131.9" r="1.6" fill="#2b2b2b"/>
<circle cx="405.6" cy="131.9" r="2.9" fill="#eeeeee"/><circle cx="405.6" cy="131.9" r="1.6" fill="#2b2b2b"/>
<circle cx="414.2" cy="131.9" r="2.9" fill="#eeeeee"/><circle cx="414.2" cy="131.9" r="1.6" fill="#2b2b2b"/>
<circle cx="422.8" cy="131.9" r="2.9" fill="#eeeeee"/><circle cx="422.8" cy="131.9" r="1.6" fill="#2b2b2b"/>
<circle cx="431.4" cy="131.9" r="2.9" fill="#eeeeee"/><circle cx="431.4" cy="131.9" r="1.6" fill="#2b2b2b"/>
<circle cx="440.0" cy="131.9" r="2.9" fill="#eeeeee"/><circle cx="440.0" cy="131.9" r="1.6" fill="#2b2b2b"/>
<circle cx="448.6" cy="131.9" r="2.9" fill="#eeeeee"/><circle cx="448.6" cy="131.9" r="1.6" fill="#2b2b2b"/>
<circle cx="457.2" cy="131.9" r="2.9" fill="#eeeeee"/><circle cx="457.2" cy="131.9" r="1.6" fill="#2b2b2b"/>
<circle cx="465.8" cy="131.9" r="2.9" fill="#eeeeee"/><circle cx="465.8" cy="131.9" r="1.6" fill="#2b2b2b"/>
<circle cx="474.4" cy="131.9" r="2.9" fill="#eeeeee"/><circle cx="474.4" cy="131.9" r="1.6" fill="#2b2b2b"/>
<circle cx="483.0" cy="131.9" r="2.9" fill="#eeeeee"/><circle cx="483.0" cy="131.9" r="1.6" fill="#2b2b2b"/>
<circle cx="491.6" cy="131.9" r="2.9" fill="#eeeeee"/><circle cx="491.6" cy="131.9" r="1.6" fill="#2b2b2b"/>
<circle cx="500.2" cy="131.9" r="2.9" fill="#eeeeee"/><circle cx="500.2" cy="131.9" r="1.6" fill="#2b2b2b"/>
<circle cx="508.8" cy="131.9" r="2.9" fill="#eeeeee"/><circle cx="508.8" cy="131.9" r="1.6" fill="#2b2b2b"/>
<circle cx="517.4" cy="131.9" r="2.9" fill="#eeeeee"/><circle cx="517.4" cy="131.9" r="1.6" fill="#2b2b2b"/>
<circle cx="526.0" cy="131.9" r="2.9" fill="#eeeeee"/><circle cx="526.0" cy="131.9" r="1.6" fill="#2b2b2b"/>
<circle cx="534.6" cy="131.9" r="2.9" fill="#eeeeee"/><circle cx="534.6" cy="131.9" r="1.6" fill="#2b2b2b"/>
<circle cx="543.2" cy="131.9" r="2.9" fill="#eeeeee"/><circle cx="543.2" cy="131.9" r="1.6" fill="#2b2b2b"/>
<circle cx="551.8" cy="131.9" r="2.9" fill="#eeeeee"/><circle cx="551.8" cy="131.9" r="1.6" fill="#2b2b2b"/>
<circle cx="560.4" cy="131.9" r="2.9" fill="#eeeeee"/><circle cx="560.4" cy="131.9" r="1.6" fill="#2b2b2b"/>
<circle cx="569.0" cy="131.9" r="2.9" fill="#eeeeee"/><circle cx="569.0" cy="131.9" r="1.6" fill="#2b2b2b"/>
<circle cx="319.6" cy="140.6" r="2.9" fill="#eeeeee"/><circle cx="319.6" cy="140.6" r="1.6" fill="#2b2b2b"/>
<circle cx="328.2" cy="140.6" r="2.9" fill="#eeeeee"/><circle cx="328.2" cy="140.6" r="1.6" fill="#2b2b2b"/>
<circle cx="336.8" cy="140.6" r="2.9" fill="#eeeeee"/><circle cx="336.8" cy="140.6" r="1.6" fill="#2b2b2b"/>
<circle cx="345.4" cy="140.6" r="2.9" fill="#eeeeee"/><circle cx="345.4" cy="140.6" r="1.6" fill="#2b2b2b"/>
<circle cx="354.0" cy="140.6" r="2.9" fill="#eeeeee"/><circle cx="354.0" cy="140.6" r="1.6" fill="#2b2b2b"/>
<circle cx="362.6" cy="140.6" r="2.9" fill="#eeeeee"/><circle cx="362.6" cy="140.6" r="1.6" fill="#2b2b2b"/>
<circle cx="371.2" cy="140.6" r="2.9" fill="#eeeeee"/><circle cx="371.2" cy="140.6" r="1.6" fill="#2b2b2b"/>
<circle cx="379.8" cy="140.6" r="2.9" fill="#eeeeee"/><circle cx="379.8" cy="140.6" r="1.6" fill="#2b2b2b"/>
<circle cx="388.4" cy="140.6" r="2.9" fill="#eeeeee"/><circle cx="388.4" cy="140.6" r="1.6" fill="#2b2b2b"/>
<circle cx="397.0" cy="140.6" r="2.9" fill="#eeeeee"/><circle cx="397.0" cy="140.6" r="1.6" fill="#2b2b2b"/>
<circle cx="405.6" cy="140.6" r="2.9" fill="#eeeeee"/><circle cx="405.6" cy="140.6" r="1.6" fill="#2b2b2b"/>
<circle cx="414.2" cy="140.6" r="2.9" fill="#eeeeee"/><circle cx="414.2" cy="140.6" r="1.6" fill="#2b2b2b"/>
<circle cx="422.8" cy="140.6" r="2.9" fill="#eeeeee"/><circle cx="422.8" cy="140.6" r="1.6" fill="#2b2b2b"/>
<circle cx="431.4" cy="140.6" r="2.9" fill="#eeeeee"/><circle cx="431.4" cy="140.6" r="1.6" fill="#2b2b2b"/>
<circle cx="440.0" cy="140.6" r="2.9" fill="#eeeeee"/><circle cx="440.0" cy="140.6" r="1.6" fill="#2b2b2b"/>
<circle cx="448.6" cy="140.6" r="2.9" fill="#eeeeee"/><circle cx="448.6" cy="140.6" r="1.6" fill="#2b2b2b"/>
<circle cx="457.2" cy="140.6" r="2.9" fill="#eeeeee"/><circle cx="457.2" cy="140.6" r="1.6" fill="#2b2b2b"/>
<circle cx="465.8" cy="140.6" r="2.9" fill="#eeeeee"/><circle cx="465.8" cy="140.6" r="1.6" fill="#2b2b2b"/>
<circle cx="474.4" cy="140.6" r="2.9" fill="#eeeeee"/><circle cx="474.4" cy="140.6" r="1.6" fill="#2b2b2b"/>
<circle cx="483.0" cy="140.6" r="2.9" fill="#eeeeee"/><circle cx="483.0" cy="140.6" r="1.6" fill="#2b2b2b"/>
<circle cx="491.6" cy="140.6" r="2.9" fill="#eeeeee"/><circle cx="491.6" cy="140.6" r="1.6" fill="#2b2b2b"/>
<circle cx="500.2" cy="140.6" r="2.9" fill="#eeeeee"/><circle cx="500.2" cy="140.6" r="1.6" fill="#2b2b2b"/>
<circle cx="508.8" cy="140.6" r="2.9" fill="#eeeeee"/><circle cx="508.8" cy="140.6" r="1.6" fill="#2b2b2b"/>
<circle cx="517.4" cy="140.6" r="2.9" fill="#eeeeee"/><circle cx="517.4" cy="140.6" r="1.6" fill="#2b2b2b"/>
<circle cx="526.0" cy="140.6" r="2.9" fill="#eeeeee"/><circle cx="526.0" cy="140.6" r="1.6" fill="#2b2b2b"/>
<circle cx="534.6" cy="140.6" r="2.9" fill="#eeeeee"/><circle cx="534.6" cy="140.6" r="1.6" fill="#2b2b2b"/>
<circle cx="543.2" cy="140.6" r="2.9" fill="#eeeeee"/><circle cx="543.2" cy="140.6" r="1.6" fill="#2b2b2b"/>
<circle cx="551.8" cy="140.6" r="2.9" fill="#eeeeee"/><circle cx="551.8" cy="140.6" r="1.6" fill="#2b2b2b"/>
<circle cx="560.4" cy="140.6" r="2.9" fill="#eeeeee"/><circle cx="560.4" cy="140.6" r="1.6" fill="#2b2b2b"/>
<circle cx="569.0" cy="140.6" r="2.9" fill="#eeeeee"/><circle cx="569.0" cy="140.6" r="1.6" fill="#2b2b2b"/>
<circle cx="319.6" cy="166.4" r="2.9" fill="#eeeeee"/><circle cx="319.6" cy="166.4" r="1.6" fill="#2b2b2b"/>
<circle cx="328.2" cy="166.4" r="2.9" fill="#eeeeee"/><circle cx="328.2" cy="166.4" r="1.6" fill="#2b2b2b"/>
<circle cx="336.8" cy="166.4" r="2.9" fill="#eeeeee"/><circle cx="336.8" cy="166.4" r="1.6" fill="#2b2b2b"/>
<circle cx="345.4" cy="166.4" r="2.9" fill="#eeeeee"/><circle cx="345.4" cy="166.4" r="1.6" fill="#2b2b2b"/>
<circle cx="354.0" cy="166.4" r="2.9" fill="#eeeeee"/><circle cx="354.0" cy="166.4" r="1.6" fill="#2b2b2b"/>
<circle cx="362.6" cy="166.4" r="2.9" fill="#eeeeee"/><circle cx="362.6" cy="166.4" r="1.6" fill="#2b2b2b"/>
<circle cx="371.2" cy="166.4" r="2.9" fill="#eeeeee"/><circle cx="371.2" cy="166.4" r="1.6" fill="#2b2b2b"/>
<circle cx="379.8" cy="166.4" r="2.9" fill="#eeeeee"/><circle cx="379.8" cy="166.4" r="1.6" fill="#2b2b2b"/>
<circle cx="388.4" cy="166.4" r="2.9" fill="#eeeeee"/><circle cx="388.4" cy="166.4" r="1.6" fill="#2b2b2b"/>
<circle cx="397.0" cy="166.4" r="2.9" fill="#eeeeee"/><circle cx="397.0" cy="166.4" r="1.6" fill="#2b2b2b"/>
<circle cx="405.6" cy="166.4" r="2.9" fill="#eeeeee"/><circle cx="405.6" cy="166.4" r="1.6" fill="#2b2b2b"/>
<circle cx="414.2" cy="166.4" r="2.9" fill="#eeeeee"/><circle cx="414.2" cy="166.4" r="1.6" fill="#2b2b2b"/>
<circle cx="422.8" cy="166.4" r="2.9" fill="#eeeeee"/><circle cx="422.8" cy="166.4" r="1.6" fill="#2b2b2b"/>
<circle cx="431.4" cy="166.4" r="2.9" fill="#eeeeee"/><circle cx="431.4" cy="166.4" r="1.6" fill="#2b2b2b"/>
<circle cx="440.0" cy="166.4" r="2.9" fill="#eeeeee"/><circle cx="440.0" cy="166.4" r="1.6" fill="#2b2b2b"/>
<circle cx="448.6" cy="166.4" r="2.9" fill="#eeeeee"/><circle cx="448.6" cy="166.4" r="1.6" fill="#2b2b2b"/>
<circle cx="457.2" cy="166.4" r="2.9" fill="#eeeeee"/><circle cx="457.2" cy="166.4" r="1.6" fill="#2b2b2b"/>
<circle cx="465.8" cy="166.4" r="2.9" fill="#eeeeee"/><circle cx="465.8" cy="166.4" r="1.6" fill="#2b2b2b"/>
<circle cx="474.4" cy="166.4" r="2.9" fill="#eeeeee"/><circle cx="474.4" cy="166.4" r="1.6" fill="#2b2b2b"/>
<circle cx="483.0" cy="166.4" r="2.9" fill="#eeeeee"/><circle cx="483.0" cy="166.4" r="1.6" fill="#2b2b2b"/>
<circle cx="491.6" cy="166.4" r="2.9" fill="#eeeeee"/><circle cx="491.6" cy="166.4" r="1.6" fill="#2b2b2b"/>
<circle cx="500.2" cy="166.4" r="2.9" fill="#eeeeee"/><circle cx="500.2" cy="166.4" r="1.6" fill="#2b2b2b"/>
<circle cx="508.8" cy="166.4" r="2.9" fill="#eeeeee"/><circle cx="508.8" cy="166.4" r="1.6" fill="#2b2b2b"/>
<circle cx="517.4" cy="166.4" r="2.9" fill="#eeeeee"/><circle cx="517.4" cy="166.4" r="1.6" fill="#2b2b2b"/>
<circle cx="526.0" cy="166.4" r="2.9" fill="#eeeeee"/><circle cx="526.0" cy="166.4" r="1.6" fill="#2b2b2b"/>
<circle cx="534.6" cy="166.4" r="2.9" fill="#eeeeee"/><circle cx="534.6" cy="166.4" r="1.6" fill="#2b2b2b"/>
<circle cx="543.2" cy="166.4" r="2.9" fill="#eeeeee"/><circle cx="543.2" cy="166.4" r="1.6" fill="#2b2b2b"/>
<circle cx="551.8" cy="166.4" r="2.9" fill="#eeeeee"/><circle cx="551.8" cy="166.4" r="1.6" fill="#2b2b2b"/>
<circle cx="560.4" cy="166.4" r="2.9" fill="#eeeeee"/><circle cx="560.4" cy="166.4" r="1.6" fill="#2b2b2b"/>
<circle cx="569.0" cy="166.4" r="2.9" fill="#eeeeee"/><circle cx="569.0" cy="166.4" r="1.6" fill="#2b2b2b"/>
<circle cx="319.6" cy="175.0" r="2.9" fill="#eeeeee"/><circle cx="319.6" cy="175.0" r="1.6" fill="#2b2b2b"/>
<circle cx="328.2" cy="175.0" r="2.9" fill="#eeeeee"/><circle cx="328.2" cy="175.0" r="1.6" fill="#2b2b2b"/>
<circle cx="336.8" cy="175.0" r="2.9" fill="#eeeeee"/><circle cx="336.8" cy="175.0" r="1.6" fill="#2b2b2b"/>
<circle cx="345.4" cy="175.0" r="2.9" fill="#eeeeee"/><circle cx="345.4" cy="175.0" r="1.6" fill="#2b2b2b"/>
<circle cx="354.0" cy="175.0" r="2.9" fill="#eeeeee"/><circle cx="354.0" cy="175.0" r="1.6" fill="#2b2b2b"/>
<circle cx="362.6" cy="175.0" r="2.9" fill="#eeeeee"/><circle cx="362.6" cy="175.0" r="1.6" fill="#2b2b2b"/>
<circle cx="371.2" cy="175.0" r="2.9" fill="#eeeeee"/><circle cx="371.2" cy="175.0" r="1.6" fill="#2b2b2b"/>
<circle cx="379.8" cy="175.0" r="2.9" fill="#eeeeee"/><circle cx="379.8" cy="175.0" r="1.6" fill="#2b2b2b"/>
<circle cx="388.4" cy="175.0" r="2.9" fill="#eeeeee"/><circle cx="388.4" cy="175.0" r="1.6" fill="#2b2b2b"/>
<circle cx="397.0" cy="175.0" r="2.9" fill="#eeeeee"/><circle cx="397.0" cy="175.0" r="1.6" fill="#2b2b2b"/>
<circle cx="405.6" cy="175.0" r="2.9" fill="#eeeeee"/><circle cx="405.6" cy="175.0" r="1.6" fill="#2b2b2b"/>
<circle cx="414.2" cy="175.0" r="2.9" fill="#eeeeee"/><circle cx="414.2" cy="175.0" r="1.6" fill="#2b2b2b"/>
<circle cx="422.8" cy="175.0" r="2.9" fill="#eeeeee"/><circle cx="422.8" cy="175.0" r="1.6" fill="#2b2b2b"/>
<circle cx="431.4" cy="175.0" r="2.9" fill="#eeeeee"/><circle cx="431.4" cy="175.0" r="1.6" fill="#2b2b2b"/>
<circle cx="440.0" cy="175.0" r="2.9" fill="#eeeeee"/><circle cx="440.0" cy="175.0" r="1.6" fill="#2b2b2b"/>
<circle cx="448.6" cy="175.0" r="2.9" fill="#eeeeee"/><circle cx="448.6" cy="175.0" r="1.6" fill="#2b2b2b"/>
<circle cx="457.2" cy="175.0" r="2.9" fill="#eeeeee"/><circle cx="457.2" cy="175.0" r="1.6" fill="#2b2b2b"/>
<circle cx="465.8" cy="175.0" r="2.9" fill="#eeeeee"/><circle cx="465.8" cy="175.0" r="1.6" fill="#2b2b2b"/>
<circle cx="474.4" cy="175.0" r="2.9" fill="#eeeeee"/><circle cx="474.4" cy="175.0" r="1.6" fill="#2b2b2b"/>
<circle cx="483.0" cy="175.0" r="2.9" fill="#eeeeee"/><circle cx="483.0" cy="175.0" r="1.6" fill="#2b2b2b"/>
<circle cx="491.6" cy="175.0" r="2.9" fill="#eeeeee"/><circle cx="491.6" cy="175.0" r="1.6" fill="#2b2b2b"/>
<circle cx="500.2" cy="175.0" r="2.9" fill="#eeeeee"/><circle cx="500.2" cy="175.0" r="1.6" fill="#2b2b2b"/>
<circle cx="508.8" cy="175.0" r="2.9" fill="#eeeeee"/><circle cx="508.8" cy="175.0" r="1.6" fill="#2b2b2b"/>
<circle cx="517.4" cy="175.0" r="2.9" fill="#eeeeee"/><circle cx="517.4" cy="175.0" r="1.6" fill="#2b2b2b"/>
<circle cx="526.0" cy="175.0" r="2.9" fill="#eeeeee"/><circle cx="526.0" cy="175.0" r="1.6" fill="#2b2b2b"/>
<circle cx="534.6" cy="175.0" r="2.9" fill="#eeeeee"/><circle cx="534.6" cy="175.0" r="1.6" fill="#2b2b2b"/>
<circle cx="543.2" cy="175.0" r="2.9" fill="#eeeeee"/><circle cx="543.2" cy="175.0" r="1.6" fill="#2b2b2b"/>
<circle cx="551.8" cy="175.0" r="2.9" fill="#eeeeee"/><circle cx="551.8" cy="175.0" r="1.6" fill="#2b2b2b"/>
<circle cx="560.4" cy="175.0" r="2.9" fill="#eeeeee"/><circle cx="560.4" cy="175.0" r="1.6" fill="#2b2b2b"/>
<circle cx="569.0" cy="175.0" r="2.9" fill="#eeeeee"/><circle cx="569.0" cy="175.0" r="1.6" fill="#2b2b2b"/>
<circle cx="319.6" cy="183.5" r="2.9" fill="#eeeeee"/><circle cx="319.6" cy="183.5" r="1.6" fill="#2b2b2b"/>
<circle cx="328.2" cy="183.5" r="2.9" fill="#eeeeee"/><circle cx="328.2" cy="183.5" r="1.6" fill="#2b2b2b"/>
<circle cx="336.8" cy="183.5" r="2.9" fill="#eeeeee"/><circle cx="336.8" cy="183.5" r="1.6" fill="#2b2b2b"/>
<circle cx="345.4" cy="183.5" r="2.9" fill="#eeeeee"/><circle cx="345.4" cy="183.5" r="1.6" fill="#2b2b2b"/>
<circle cx="354.0" cy="183.5" r="2.9" fill="#eeeeee"/><circle cx="354.0" cy="183.5" r="1.6" fill="#2b2b2b"/>
<circle cx="362.6" cy="183.5" r="2.9" fill="#eeeeee"/><circle cx="362.6" cy="183.5" r="1.6" fill="#2b2b2b"/>
<circle cx="371.2" cy="183.5" r="2.9" fill="#eeeeee"/><circle cx="371.2" cy="183.5" r="1.6" fill="#2b2b2b"/>
<circle cx="379.8" cy="183.5" r="2.9" fill="#eeeeee"/><circle cx="379.8" cy="183.5" r="1.6" fill="#2b2b2b"/>
<circle cx="388.4" cy="183.5" r="2.9" fill="#eeeeee"/><circle cx="388.4" cy="183.5" r="1.6" fill="#2b2b2b"/>
<circle cx="397.0" cy="183.5" r="2.9" fill="#eeeeee"/><circle cx="397.0" cy="183.5" r="1.6" fill="#2b2b2b"/>
<circle cx="405.6" cy="183.5" r="2.9" fill="#eeeeee"/><circle cx="405.6" cy="183.5" r="1.6" fill="#2b2b2b"/>
<circle cx="414.2" cy="183.5" r="2.9" fill="#eeeeee"/><circle cx="414.2" cy="183.5" r="1.6" fill="#2b2b2b"/>
<circle cx="422.8" cy="183.5" r="2.9" fill="#eeeeee"/><circle cx="422.8" cy="183.5" r="1.6" fill="#2b2b2b"/>
<circle cx="431.4" cy="183.5" r="2.9" fill="#eeeeee"/><circle cx="431.4" cy="183.5" r="1.6" fill="#2b2b2b"/>
<circle cx="440.0" cy="183.5" r="2.9" fill="#eeeeee"/><circle cx="440.0" cy="183.5" r="1.6" fill="#2b2b2b"/>
<circle cx="448.6" cy="183.5" r="2.9" fill="#eeeeee"/><circle cx="448.6" cy="183.5" r="1.6" fill="#2b2b2b"/>
<circle cx="457.2" cy="183.5" r="2.9" fill="#eeeeee"/><circle cx="457.2" cy="183.5" r="1.6" fill="#2b2b2b"/>
<circle cx="465.8" cy="183.5" r="2.9" fill="#eeeeee"/><circle cx="465.8" cy="183.5" r="1.6" fill="#2b2b2b"/>
<circle cx="474.4" cy="183.5" r="2.9" fill="#eeeeee"/><circle cx="474.4" cy="183.5" r="1.6" fill="#2b2b2b"/>
<circle cx="483.0" cy="183.5" r="2.9" fill="#eeeeee"/><circle cx="483.0" cy="183.5" r="1.6" fill="#2b2b2b"/>
<circle cx="491.6" cy="183.5" r="2.9" fill="#eeeeee"/><circle cx="491.6" cy="183.5" r="1.6" fill="#2b2b2b"/>
<circle cx="500.2" cy="183.5" r="2.9" fill="#eeeeee"/><circle cx="500.2" cy="183.5" r="1.6" fill="#2b2b2b"/>
<circle cx="508.8" cy="183.5" r="2.9" fill="#eeeeee"/><circle cx="508.8" cy="183.5" r="1.6" fill="#2b2b2b"/>
<circle cx="517.4" cy="183.5" r="2.9" fill="#eeeeee"/><circle cx="517.4" cy="183.5" r="1.6" fill="#2b2b2b"/>
<circle cx="526.0" cy="183.5" r="2.9" fill="#eeeeee"/><circle cx="526.0" cy="183.5" r="1.6" fill="#2b2b2b"/>
<circle cx="534.6" cy="183.5" r="2.9" fill="#eeeeee"/><circle cx="534.6" cy="183.5" r="1.6" fill="#2b2b2b"/>
<circle cx="543.2" cy="183.5" r="2.9" fill="#eeeeee"/><circle cx="543.2" cy="183.5" r="1.6" fill="#2b2b2b"/>
<circle cx="551.8" cy="183.5" r="2.9" fill="#eeeeee"/><circle cx="551.8" cy="183.5" r="1.6" fill="#2b2b2b"/>
<circle cx="560.4" cy="183.5" r="2.9" fill="#eeeeee"/><circle cx="560.4" cy="183.5" r="1.6" fill="#2b2b2b"/>
<circle cx="569.0" cy="183.5" r="2.9" fill="#eeeeee"/><circle cx="569.0" cy="183.5" r="1.6" fill="#2b2b2b"/>
<circle cx="319.6" cy="192.0" r="2.9" fill="#eeeeee"/><circle cx="319.6" cy="192.0" r="1.6" fill="#2b2b2b"/>
<circle cx="328.2" cy="192.0" r="2.9" fill="#eeeeee"/><circle cx="328.2" cy="192.0" r="1.6" fill="#2b2b2b"/>
<circle cx="336.8" cy="192.0" r="2.9" fill="#eeeeee"/><circle cx="336.8" cy="192.0" r="1.6" fill="#2b2b2b"/>
<circle cx="345.4" cy="192.0" r="2.9" fill="#eeeeee"/><circle cx="345.4" cy="192.0" r="1.6" fill="#2b2b2b"/>
<circle cx="354.0" cy="192.0" r="2.9" fill="#eeeeee"/><circle cx="354.0" cy="192.0" r="1.6" fill="#2b2b2b"/>
<circle cx="362.6" cy="192.0" r="2.9" fill="#eeeeee"/><circle cx="362.6" cy="192.0" r="1.6" fill="#2b2b2b"/>
<circle cx="371.2" cy="192.0" r="2.9" fill="#eeeeee"/><circle cx="371.2" cy="192.0" r="1.6" fill="#2b2b2b"/>
<circle cx="379.8" cy="192.0" r="2.9" fill="#eeeeee"/><circle cx="379.8" cy="192.0" r="1.6" fill="#2b2b2b"/>
<circle cx="388.4" cy="192.0" r="2.9" fill="#eeeeee"/><circle cx="388.4" cy="192.0" r="1.6" fill="#2b2b2b"/>
<circle cx="397.0" cy="192.0" r="2.9" fill="#eeeeee"/><circle cx="397.0" cy="192.0" r="1.6" fill="#2b2b2b"/>
<circle cx="405.6" cy="192.0" r="2.9" fill="#eeeeee"/><circle cx="405.6" cy="192.0" r="1.6" fill="#2b2b2b"/>
<circle cx="414.2" cy="192.0" r="2.9" fill="#eeeeee"/><circle cx="414.2" cy="192.0" r="1.6" fill="#2b2b2b"/>
<circle cx="422.8" cy="192.0" r="2.9" fill="#eeeeee"/><circle cx="422.8" cy="192.0" r="1.6" fill="#2b2b2b"/>
<circle cx="431.4" cy="192.0" r="2.9" fill="#eeeeee"/><circle cx="431.4" cy="192.0" r="1.6" fill="#2b2b2b"/>
<circle cx="440.0" cy="192.0" r="2.9" fill="#eeeeee"/><circle cx="440.0" cy="192.0" r="1.6" fill="#2b2b2b"/>
<circle cx="448.6" cy="192.0" r="2.9" fill="#eeeeee"/><circle cx="448.6" cy="192.0" r="1.6" fill="#2b2b2b"/>
<circle cx="457.2" cy="192.0" r="2.9" fill="#eeeeee"/><circle cx="457.2" cy="192.0" r="1.6" fill="#2b2b2b"/>
<circle cx="465.8" cy="192.0" r="2.9" fill="#eeeeee"/><circle cx="465.8" cy="192.0" r="1.6" fill="#2b2b2b"/>
<circle cx="474.4" cy="192.0" r="2.9" fill="#eeeeee"/><circle cx="474.4" cy="192.0" r="1.6" fill="#2b2b2b"/>
<circle cx="483.0" cy="192.0" r="2.9" fill="#eeeeee"/><circle cx="483.0" cy="192.0" r="1.6" fill="#2b2b2b"/>
<circle cx="491.6" cy="192.0" r="2.9" fill="#eeeeee"/><circle cx="491.6" cy="192.0" r="1.6" fill="#2b2b2b"/>
<circle cx="500.2" cy="192.0" r="2.9" fill="#eeeeee"/><circle cx="500.2" cy="192.0" r="1.6" fill="#2b2b2b"/>
<circle cx="508.8" cy="192.0" r="2.9" fill="#eeeeee"/><circle cx="508.8" cy="192.0" r="1.6" fill="#2b2b2b"/>
<circle cx="517.4" cy="192.0" r="2.9" fill="#eeeeee"/><circle cx="517.4" cy="192.0" r="1.6" fill="#2b2b2b"/>
<circle cx="526.0" cy="192.0" r="2.9" fill="#eeeeee"/><circle cx="526.0" cy="192.0" r="1.6" fill="#2b2b2b"/>
<circle cx="534.6" cy="192.0" r="2.9" fill="#eeeeee"/><circle cx="534.6" cy="192.0" r="1.6" fill="#2b2b2b"/>
<circle cx="543.2" cy="192.0" r="2.9" fill="#eeeeee"/><circle cx="543.2" cy="192.0" r="1.6" fill="#2b2b2b"/>
<circle cx="551.8" cy="192.0" r="2.9" fill="#eeeeee"/><circle cx="551.8" cy="192.0" r="1.6" fill="#2b2b2b"/>
<circle cx="560.4" cy="192.0" r="2.9" fill="#eeeeee"/><circle cx="560.4" cy="192.0" r="1.6" fill="#2b2b2b"/>
<circle cx="569.0" cy="192.0" r="2.9" fill="#eeeeee"/><circle cx="569.0" cy="192.0" r="1.6" fill="#2b2b2b"/>
<circle cx="319.6" cy="200.8" r="2.9" fill="#eeeeee"/><circle cx="319.6" cy="200.8" r="1.6" fill="#2b2b2b"/>
<circle cx="328.2" cy="200.8" r="2.9" fill="#eeeeee"/><circle cx="328.2" cy="200.8" r="1.6" fill="#2b2b2b"/>
<circle cx="336.8" cy="200.8" r="2.9" fill="#eeeeee"/><circle cx="336.8" cy="200.8" r="1.6" fill="#2b2b2b"/>
<circle cx="345.4" cy="200.8" r="2.9" fill="#eeeeee"/><circle cx="345.4" cy="200.8" r="1.6" fill="#2b2b2b"/>
<circle cx="354.0" cy="200.8" r="2.9" fill="#eeeeee"/><circle cx="354.0" cy="200.8" r="1.6" fill="#2b2b2b"/>
<circle cx="362.6" cy="200.8" r="2.9" fill="#eeeeee"/><circle cx="362.6" cy="200.8" r="1.6" fill="#2b2b2b"/>
<circle cx="371.2" cy="200.8" r="2.9" fill="#eeeeee"/><circle cx="371.2" cy="200.8" r="1.6" fill="#2b2b2b"/>
<circle cx="379.8" cy="200.8" r="2.9" fill="#eeeeee"/><circle cx="379.8" cy="200.8" r="1.6" fill="#2b2b2b"/>
<circle cx="388.4" cy="200.8" r="2.9" fill="#eeeeee"/><circle cx="388.4" cy="200.8" r="1.6" fill="#2b2b2b"/>
<circle cx="397.0" cy="200.8" r="2.9" fill="#eeeeee"/><circle cx="397.0" cy="200.8" r="1.6" fill="#2b2b2b"/>
<circle cx="405.6" cy="200.8" r="2.9" fill="#eeeeee"/><circle cx="405.6" cy="200.8" r="1.6" fill="#2b2b2b"/>
<circle cx="414.2" cy="200.8" r="2.9" fill="#eeeeee"/><circle cx="414.2" cy="200.8" r="1.6" fill="#2b2b2b"/>
<circle cx="422.8" cy="200.8" r="2.9" fill="#eeeeee"/><circle cx="422.8" cy="200.8" r="1.6" fill="#2b2b2b"/>
<circle cx="431.4" cy="200.8" r="2.9" fill="#eeeeee"/><circle cx="431.4" cy="200.8" r="1.6" fill="#2b2b2b"/>
<circle cx="440.0" cy="200.8" r="2.9" fill="#eeeeee"/><circle cx="440.0" cy="200.8" r="1.6" fill="#2b2b2b"/>
<circle cx="448.6" cy="200.8" r="2.9" fill="#eeeeee"/><circle cx="448.6" cy="200.8" r="1.6" fill="#2b2b2b"/>
<circle cx="457.2" cy="200.8" r="2.9" fill="#eeeeee"/><circle cx="457.2" cy="200.8" r="1.6" fill="#2b2b2b"/>
<circle cx="465.8" cy="200.8" r="2.9" fill="#eeeeee"/><circle cx="465.8" cy="200.8" r="1.6" fill="#2b2b2b"/>
<circle cx="474.4" cy="200.8" r="2.9" fill="#eeeeee"/><circle cx="474.4" cy="200.8" r="1.6" fill="#2b2b2b"/>
<circle cx="483.0" cy="200.8" r="2.9" fill="#eeeeee"/><circle cx="483.0" cy="200.8" r="1.6" fill="#2b2b2b"/>
<circle cx="491.6" cy="200.8" r="2.9" fill="#eeeeee"/><circle cx="491.6" cy="200.8" r="1.6" fill="#2b2b2b"/>
<circle cx="500.2" cy="200.8" r="2.9" fill="#eeeeee"/><circle cx="500.2" cy="200.8" r="1.6" fill="#2b2b2b"/>
<circle cx="508.8" cy="200.8" r="2.9" fill="#eeeeee"/><circle cx="508.8" cy="200.8" r="1.6" fill="#2b2b2b"/>
<circle cx="517.4" cy="200.8" r="2.9" fill="#eeeeee"/><circle cx="517.4" cy="200.8" r="1.6" fill="#2b2b2b"/>
<circle cx="526.0" cy="200.8" r="2.9" fill="#eeeeee"/><circle cx="526.0" cy="200.8" r="1.6" fill="#2b2b2b"/>
<circle cx="534.6" cy="200.8" r="2.9" fill="#eeeeee"/><circle cx="534.6" cy="200.8" r="1.6" fill="#2b2b2b"/>
<circle cx="543.2" cy="200.8" r="2.9" fill="#eeeeee"/><circle cx="543.2" cy="200.8" r="1.6" fill="#2b2b2b"/>
<circle cx="551.8" cy="200.8" r="2.9" fill="#eeeeee"/><circle cx="551.8" cy="200.8" r="1.6" fill="#2b2b2b"/>
<circle cx="560.4" cy="200.8" r="2.9" fill="#eeeeee"/><circle cx="560.4" cy="200.8" r="1.6" fill="#2b2b2b"/>
<circle cx="569.0" cy="200.8" r="2.9" fill="#eeeeee"/><circle cx="569.0" cy="200.8" r="1.6" fill="#2b2b2b"/>
<rect x="385.3" y="105.6" width="136.7" height="69.2" fill="#167ec6" stroke="#1268ad" stroke-width="0.8"/>
<circle cx="389.8" cy="110.8" r="4" fill="#f4f6f8"/>
<circle cx="516.7" cy="110.8" r="4" fill="#f4f6f8"/>
<circle cx="389.8" cy="170.4" r="4" fill="#f4f6f8"/>
<circle cx="516.7" cy="170.4" r="4" fill="#f4f6f8"/>
<circle cx="412.2" cy="138.8" r="25" fill="#b5d3d8"/>
<circle cx="412.2" cy="138.8" r="22.6" fill="#343434" stroke="#262626" stroke-width="1.2"/>
<circle cx="494" cy="138.8" r="25" fill="#b5d3d8"/>
<circle cx="494" cy="138.8" r="22.6" fill="#343434" stroke="#262626" stroke-width="1.2"/>
<ellipse cx="452.8" cy="114.7" rx="15.8" ry="4.8" fill="#e4e6d2" stroke="#8a9aa8" stroke-width="0.6"/>
<text x="452.8" y="117.3" font-family='"Liberation Mono", monospace' font-size="7.2" fill="#2a2a2a" text-anchor="middle">4.000</text>
<text x="454" y="141.5" font-family='"Liberation Sans", sans-serif' font-size="5.6" fill="#0d4a80" font-weight="normal" text-anchor="middle">HC-SR04</text>
<text x="441.7" y="167" font-family='"Liberation Sans", sans-serif' font-size="4.8" fill="#0d4a80" font-weight="normal" text-anchor="start" transform="rotate(-90 441.7 167)">Vcc</text>
<text x="450.13" y="167" font-family='"Liberation Sans", sans-serif' font-size="4.8" fill="#0d4a80" font-weight="normal" text-anchor="start" transform="rotate(-90 450.13 167)">Trig</text>
<text x="458.56" y="167" font-family='"Liberation Sans", sans-serif' font-size="4.8" fill="#0d4a80" font-weight="normal" text-anchor="start" transform="rotate(-90 458.56 167)">Echo</text>
<text x="466.99" y="167" font-family='"Liberation Sans", sans-serif' font-size="4.8" fill="#0d4a80" font-weight="normal" text-anchor="start" transform="rotate(-90 466.99 167)">Gnd</text>
<rect x="437.8" y="169.2" width="4.2" height="4.2" fill="#cdd6de"/>
<rect x="438.7" y="174.5" width="2.4" height="17" fill="#979797"/>
<circle cx="439.9" cy="192.3" r="2.6" fill="#66cc66"/>
<rect x="446.2" y="169.2" width="4.2" height="4.2" fill="#cdd6de"/>
<rect x="447.1" y="174.5" width="2.4" height="17" fill="#979797"/>
<circle cx="448.3" cy="192.3" r="2.6" fill="#66cc66"/>
<rect x="454.7" y="169.2" width="4.2" height="4.2" fill="#cdd6de"/>
<rect x="455.6" y="174.5" width="2.4" height="17" fill="#979797"/>
<circle cx="456.8" cy="192.3" r="2.6" fill="#66cc66"/>
<rect x="463.1" y="169.2" width="4.2" height="4.2" fill="#cdd6de"/>
<rect x="464.0" y="174.5" width="2.4" height="17" fill="#979797"/>
<circle cx="465.2" cy="192.3" r="2.6" fill="#66cc66"/>
<rect x="660" y="67" width="379.5" height="164" fill="#34a54a"/>
<rect x="718" y="78.5" width="321" height="141.5" fill="#227c38" stroke="#5cb86a" stroke-width="1"/>
<circle cx="726.5" cy="87.5" r="6.3" fill="#c2c0a2"/>
<circle cx="726.5" cy="87.5" r="3.8" fill="#ffffff"/>
<circle cx="1032.4" cy="87.7" r="6.3" fill="#c2c0a2"/>
<circle cx="1032.4" cy="87.7" r="3.8" fill="#ffffff"/>
<circle cx="727.2" cy="211" r="6.3" fill="#c2c0a2"/>
<circle cx="727.2" cy="211" r="3.8" fill="#ffffff"/>
<circle cx="1032.4" cy="211.5" r="6.3" fill="#c2c0a2"/>
<circle cx="1032.4" cy="211.5" r="3.8" fill="#ffffff"/>
<ellipse cx="745.6" cy="84" rx="2.8" ry="4" fill="#7f9a62" stroke="#b9b88e" stroke-width="1.1"/>
<circle cx="745.6" cy="84.8" r="1.1" fill="#6a5a3a"/>
<ellipse cx="755.9" cy="84" rx="2.8" ry="4" fill="#7f9a62" stroke="#b9b88e" stroke-width="1.1"/>
<circle cx="755.9" cy="84.8" r="1.1" fill="#6a5a3a"/>
<ellipse cx="766.1" cy="84" rx="2.8" ry="4" fill="#7f9a62" stroke="#b9b88e" stroke-width="1.1"/>
<circle cx="766.1" cy="84.8" r="1.1" fill="#6a5a3a"/>
<ellipse cx="776.4" cy="84" rx="2.8" ry="4" fill="#7f9a62" stroke="#b9b88e" stroke-width="1.1"/>
<circle cx="776.4" cy="84.8" r="1.1" fill="#6a5a3a"/>
<ellipse cx="786.6" cy="84" rx="2.8" ry="4" fill="#7f9a62" stroke="#b9b88e" stroke-width="1.1"/>
<circle cx="786.6" cy="84.8" r="1.1" fill="#6a5a3a"/>
<ellipse cx="796.9" cy="84" rx="2.8" ry="4" fill="#7f9a62" stroke="#b9b88e" stroke-width="1.1"/>
<circle cx="796.9" cy="84.8" r="1.1" fill="#6a5a3a"/>
<ellipse cx="807.1" cy="84" rx="2.8" ry="4" fill="#7f9a62" stroke="#b9b88e" stroke-width="1.1"/>
<circle cx="807.1" cy="84.8" r="1.1" fill="#6a5a3a"/>
<ellipse cx="817.4" cy="84" rx="2.8" ry="4" fill="#7f9a62" stroke="#b9b88e" stroke-width="1.1"/>
<circle cx="817.4" cy="84.8" r="1.1" fill="#6a5a3a"/>
<ellipse cx="827.6" cy="84" rx="2.8" ry="4" fill="#7f9a62" stroke="#b9b88e" stroke-width="1.1"/>
<circle cx="827.6" cy="84.8" r="1.1" fill="#6a5a3a"/>
<ellipse cx="837.9" cy="84" rx="2.8" ry="4" fill="#7f9a62" stroke="#b9b88e" stroke-width="1.1"/>
<circle cx="837.9" cy="84.8" r="1.1" fill="#6a5a3a"/>
<ellipse cx="848.1" cy="84" rx="2.8" ry="4" fill="#7f9a62" stroke="#b9b88e" stroke-width="1.1"/>
<circle cx="848.1" cy="84.8" r="1.1" fill="#6a5a3a"/>
<ellipse cx="858.4" cy="84" rx="2.8" ry="4" fill="#7f9a62" stroke="#b9b88e" stroke-width="1.1"/>
<circle cx="858.4" cy="84.8" r="1.1" fill="#6a5a3a"/>
<ellipse cx="868.6" cy="84" rx="2.8" ry="4" fill="#7f9a62" stroke="#b9b88e" stroke-width="1.1"/>
<circle cx="868.6" cy="84.8" r="1.1" fill="#6a5a3a"/>
<ellipse cx="878.9" cy="84" rx="2.8" ry="4" fill="#7f9a62" stroke="#b9b88e" stroke-width="1.1"/>
<circle cx="878.9" cy="84.8" r="1.1" fill="#6a5a3a"/>
<ellipse cx="889.1" cy="84" rx="2.8" ry="4" fill="#7f9a62" stroke="#b9b88e" stroke-width="1.1"/>
<circle cx="889.1" cy="84.8" r="1.1" fill="#6a5a3a"/>
<ellipse cx="899.4" cy="84" rx="2.8" ry="4" fill="#7f9a62" stroke="#b9b88e" stroke-width="1.1"/>
<circle cx="899.4" cy="84.8" r="1.1" fill="#6a5a3a"/>
<rect x="733" y="97.3" width="295.5" height="102.3" rx="3" fill="#2c2c2c"/>
<rect x="742.6" y="102.8" width="276" height="1.6" fill="#1c1c1c"/>
<rect x="742.6" y="104.4" width="276" height="10" fill="#313131"/>
<rect x="742.6" y="105.4" width="276" height="2.2" fill="#424242"/>
<rect x="742.6" y="114" width="276" height="1.4" fill="#1e1e1e"/>
<rect x="742.6" y="183.5" width="276" height="1.4" fill="#1e1e1e"/>
<rect x="742.6" y="184.9" width="276" height="9.5" fill="#313131"/>
<rect x="742.6" y="191.4" width="276" height="2.2" fill="#424242"/>
<rect x="742.6" y="194.4" width="276" height="1.6" fill="#1c1c1c"/>
<rect x="744.5" y="116.3" width="270.5" height="66" rx="3" fill="#8cb336"/>
<rect x="757.5" y="126" width="246.5" height="46.5" fill="#7ea233"/>
<line x1="757.5" y1="126" x2="757.5" y2="172.5" stroke="#8ab43c" stroke-width="1"/>
<line x1="772.9" y1="126" x2="772.9" y2="172.5" stroke="#8ab43c" stroke-width="1"/>
<line x1="788.3" y1="126" x2="788.3" y2="172.5" stroke="#8ab43c" stroke-width="1"/>
<line x1="803.7" y1="126" x2="803.7" y2="172.5" stroke="#8ab43c" stroke-width="1"/>
<line x1="819.1" y1="126" x2="819.1" y2="172.5" stroke="#8ab43c" stroke-width="1"/>
<line x1="834.5" y1="126" x2="834.5" y2="172.5" stroke="#8ab43c" stroke-width="1"/>
<line x1="849.9" y1="126" x2="849.9" y2="172.5" stroke="#8ab43c" stroke-width="1"/>
<line x1="865.3" y1="126" x2="865.3" y2="172.5" stroke="#8ab43c" stroke-width="1"/>
<line x1="880.8" y1="126" x2="880.8" y2="172.5" stroke="#8ab43c" stroke-width="1"/>
<line x1="896.2" y1="126" x2="896.2" y2="172.5" stroke="#8ab43c" stroke-width="1"/>
<line x1="911.6" y1="126" x2="911.6" y2="172.5" stroke="#8ab43c" stroke-width="1"/>
<line x1="927.0" y1="126" x2="927.0" y2="172.5" stroke="#8ab43c" stroke-width="1"/>
<line x1="942.4" y1="126" x2="942.4" y2="172.5" stroke="#8ab43c" stroke-width="1"/>
<line x1="957.8" y1="126" x2="957.8" y2="172.5" stroke="#8ab43c" stroke-width="1"/>
<line x1="973.2" y1="126" x2="973.2" y2="172.5" stroke="#8ab43c" stroke-width="1"/>
<line x1="988.6" y1="126" x2="988.6" y2="172.5" stroke="#8ab43c" stroke-width="1"/>
<line x1="1004.0" y1="126" x2="1004.0" y2="172.5" stroke="#8ab43c" stroke-width="1"/>
<line x1="757.5" y1="149.2" x2="1004" y2="149.2" stroke="#8ab43c" stroke-width="1"/>
<circle cx="690.5" cy="88.5" r="3.6" fill="#1f6b2b"/>
<circle cx="690.5" cy="98" r="3.6" fill="#1f6b2b"/>
<circle cx="690.5" cy="108" r="3.6" fill="#1f6b2b"/>
<circle cx="690.5" cy="118" r="3.6" fill="#1f6b2b"/>
<circle cx="690.5" cy="128.5" r="3.6" fill="#1f6b2b"/>
<text x="665.5" y="90.6" font-family='"Liberation Sans", sans-serif' font-size="8.5" fill="#dcf2dc" font-weight="normal" text-anchor="start">GND</text>
<text x="667.3" y="100.8" font-family='"Liberation Sans", sans-serif' font-size="8.5" fill="#dcf2dc" font-weight="normal" text-anchor="start">+5V</text>
<rect x="685.3" y="160" width="10" height="19" rx="4.5" fill="#24402a"/>
<circle cx="690.3" cy="164.6" r="1.5" fill="#6e6450"/><circle cx="690.3" cy="173.6" r="1.5" fill="#6e6450"/>
<text x="669.8" y="171.2" font-family='"Liberation Sans", sans-serif' font-size="7.5" fill="#d9f0d9" font-weight="normal" text-anchor="middle" transform="rotate(90 669.8 171.2)">BL</text>
<text x="669.8" y="207.4" font-family='"Liberation Sans", sans-serif' font-size="7.5" fill="#d9f0d9" font-weight="normal" text-anchor="middle" transform="rotate(90 669.8 207.4)">Contrast</text>
<rect x="680.8" y="195.2" width="22" height="24.4" fill="#3650d0"/>
<circle cx="695.3" cy="206.2" r="10.9" fill="#cacbe0" stroke="#b0b0c4" stroke-width="0.8"/>
<rect x="693.1" y="197.5" width="4.4" height="17.5" fill="#f4f4f8"/><rect x="686.6" y="204.2" width="17.4" height="4" fill="#f4f4f8"/>
<path d="M870,278.5 L856,282.6 A11.4,11.4 0 0 0 856,305.4 L870,308.5 Z" fill="#0a0a0a"/>
<path d="M973,278.5 L987,282.6 A11.4,11.4 0 0 1 987,305.4 L973,308.5 Z" fill="#0a0a0a"/>
<circle cx="854.4" cy="293.6" r="4.3" fill="#fff"/>
<circle cx="988.8" cy="293.6" r="4.3" fill="#fff"/>
<circle cx="921.5" cy="293.6" r="56.5" fill="#0a0a0a"/>
<path d="M914.0,240.5 A53.6,53.6 0 0 1 957.4,253.8" fill="none" stroke="#4a4a4a" stroke-width="2.2"/>
<path d="M967.9,266.8 A53.6,53.6 0 0 1 972.8,309.3" fill="none" stroke="#4a4a4a" stroke-width="2.2"/>
<path d="M869.3,305.7 A53.6,53.6 0 0 1 873.3,270.1" fill="none" stroke="#555555" stroke-width="2.4"/>
<path d="M939.8,344.0 A53.6,53.6 0 0 1 901.4,343.3" fill="none" stroke="#3e3e3e" stroke-width="2.2"/>
<circle cx="921.5" cy="293.6" r="17" fill="none" stroke="#242424" stroke-width="1"/>
<circle cx="921.5" cy="293.6" r="22" fill="none" stroke="#242424" stroke-width="1"/>
<circle cx="921.5" cy="293.6" r="27" fill="none" stroke="#242424" stroke-width="1"/>
<circle cx="921.5" cy="293.6" r="32" fill="none" stroke="#242424" stroke-width="1"/>
<circle cx="921.5" cy="293.6" r="37" fill="none" stroke="#242424" stroke-width="1"/>
<circle cx="921.5" cy="293.6" r="42" fill="none" stroke="#242424" stroke-width="1"/>
<circle cx="922" cy="293.6" r="9.6" fill="#d9d9d9"/>
<path d="M165.9,73 V51.5 H191.9 V158.4 H98.7 V410.2 H928.5 V350" fill="none" stroke="#d41c1c" stroke-width="3.7" stroke-linejoin="round" stroke-linecap="square"/>
<path d="M131.3,73.3 V40 H17.5 V374.4 H915.3 V350" fill="none" stroke="#0a0a0a" stroke-width="3.6" stroke-linejoin="round" stroke-linecap="square"/>
<path d="M191,233.5 V277.4 H465.8 V196" fill="none" stroke="#2a2a2a" stroke-width="3.6" stroke-linejoin="round" stroke-linecap="square"/>
<path d="M236,277.4 V328.8 H774.5 V42 H691 V88.5" fill="none" stroke="#111811" stroke-width="3.8" stroke-linejoin="round" stroke-linecap="square"/>
<path d="M156.5,73 V46.6 H294 V243.5 H448.3 V196" fill="none" stroke="#30b4a6" stroke-width="3.8" stroke-linejoin="round" stroke-linecap="square"/>
<path d="M147.8,73 V29 H603.2 V235.3 H457.3 V196" fill="none" stroke="#dcb23c" stroke-width="4.6" stroke-linejoin="round" stroke-linecap="square"/>
<path d="M147.8,73 V29 H603.2 V235.3 H457.3 V196" fill="none" stroke="#f6d24e" stroke-width="2.2" stroke-linejoin="round" stroke-linecap="square"/>
<path d="M173.6,233.5 V262 H439.9 V196" fill="none" stroke="#b41d1d" stroke-width="3.6" stroke-linejoin="round" stroke-linecap="square"/>
<path d="M218.8,262 V306.5 H756.5 V59.4 H709.5 V97.7 H692" fill="none" stroke="#a81b1b" stroke-width="3.9" stroke-linejoin="round" stroke-linecap="square"/>
<path d="M182.3,233.5 V351.4 H440.4" fill="none" stroke="#ad745c" stroke-width="3.7" stroke-linejoin="round" stroke-linecap="square"/>
<path d="M200,233.5 V250.6 H729.5 V351.1 H649" fill="none" stroke="#b4dc3a" stroke-width="3.8" stroke-linejoin="round" stroke-linecap="square"/>
<path d="M498.7,351.1 H602" fill="none" stroke="#b4dc3a" stroke-width="3.9" stroke-linejoin="round" stroke-linecap="square"/>
<path d="M217,73 V56.8 H631.6 V118" fill="none" stroke="#c06a2c" stroke-width="2.4" stroke-linejoin="round" stroke-linecap="square"/>
<path d="M208.4,73 V41 H312.3 V47.5 H644.6 V128.7" fill="none" stroke="#8c46a6" stroke-width="2.4" stroke-linejoin="round" stroke-linecap="square"/>
<path d="M174,73 V36.9 H654.7 V108.3" fill="none" stroke="#3c78ba" stroke-width="2.2" stroke-linejoin="round" stroke-linecap="square"/>
<path d="M632,118 H691" fill="none" stroke="#c06a2c" stroke-width="4" stroke-linejoin="round" stroke-linecap="square"/>
<path d="M645,128.7 H691" fill="none" stroke="#8c46a6" stroke-width="4" stroke-linejoin="round" stroke-linecap="square"/>
<path d="M655,108.3 H691" fill="none" stroke="#3c78ba" stroke-width="3.6" stroke-linejoin="round" stroke-linecap="square"/>
<rect x="146.0" y="69" width="3.6" height="4.3" fill="#d8e060" opacity="0.7"/>
<rect x="154.7" y="69" width="3.6" height="4.3" fill="#50d890" opacity="0.7"/>
<rect x="164.1" y="69" width="3.6" height="4.3" fill="#e03030" opacity="0.7"/>
<rect x="172.2" y="69" width="3.6" height="4.3" fill="#6a9ae0" opacity="0.7"/>
<rect x="206.6" y="69" width="3.6" height="4.3" fill="#b070c8" opacity="0.7"/>
<rect x="215.2" y="69" width="3.6" height="4.3" fill="#e09a60" opacity="0.7"/>
<rect x="286" y="89.5" width="2" height="2" fill="#cc2222"/>
<g stroke="#111" stroke-width="1.6" fill="none">
<path d="M440.4,351.5 H460.5 M483.1,351.5 H498.7"/>
<path d="M460.3,346.5 V356.6 M467.8,337 V365.5 M475.2,346.5 V356.6 M483.1,337 V365.5" stroke-width="2"/>
<path d="M450.5,361 V364.5 M493,363 H499 M496,360 V366" stroke-width="1"/>
</g>
<text x="488" y="345.2" font-family='"Liberation Sans", sans-serif' font-size="12.5" fill="#1a1a1a" font-weight="bold" text-anchor="start">9V</text>
<line x1="611.7" y1="347.9" x2="640.5" y2="335.2" stroke="#111" stroke-width="3.4" stroke-linecap="round"/>
<circle cx="608.3" cy="351.3" r="4.5" fill="#fff" stroke="#111" stroke-width="3.4"/>
<ellipse cx="643.3" cy="351.3" rx="3.5" ry="4.5" fill="#fff" stroke="#111" stroke-width="3.4"/>
<text x="603.6" y="367.5" font-family='"Liberation Sans", sans-serif' font-size="12.5" fill="#1a1a1a" font-weight="bold" text-anchor="start">switch</text>
</svg>
</body></html>
